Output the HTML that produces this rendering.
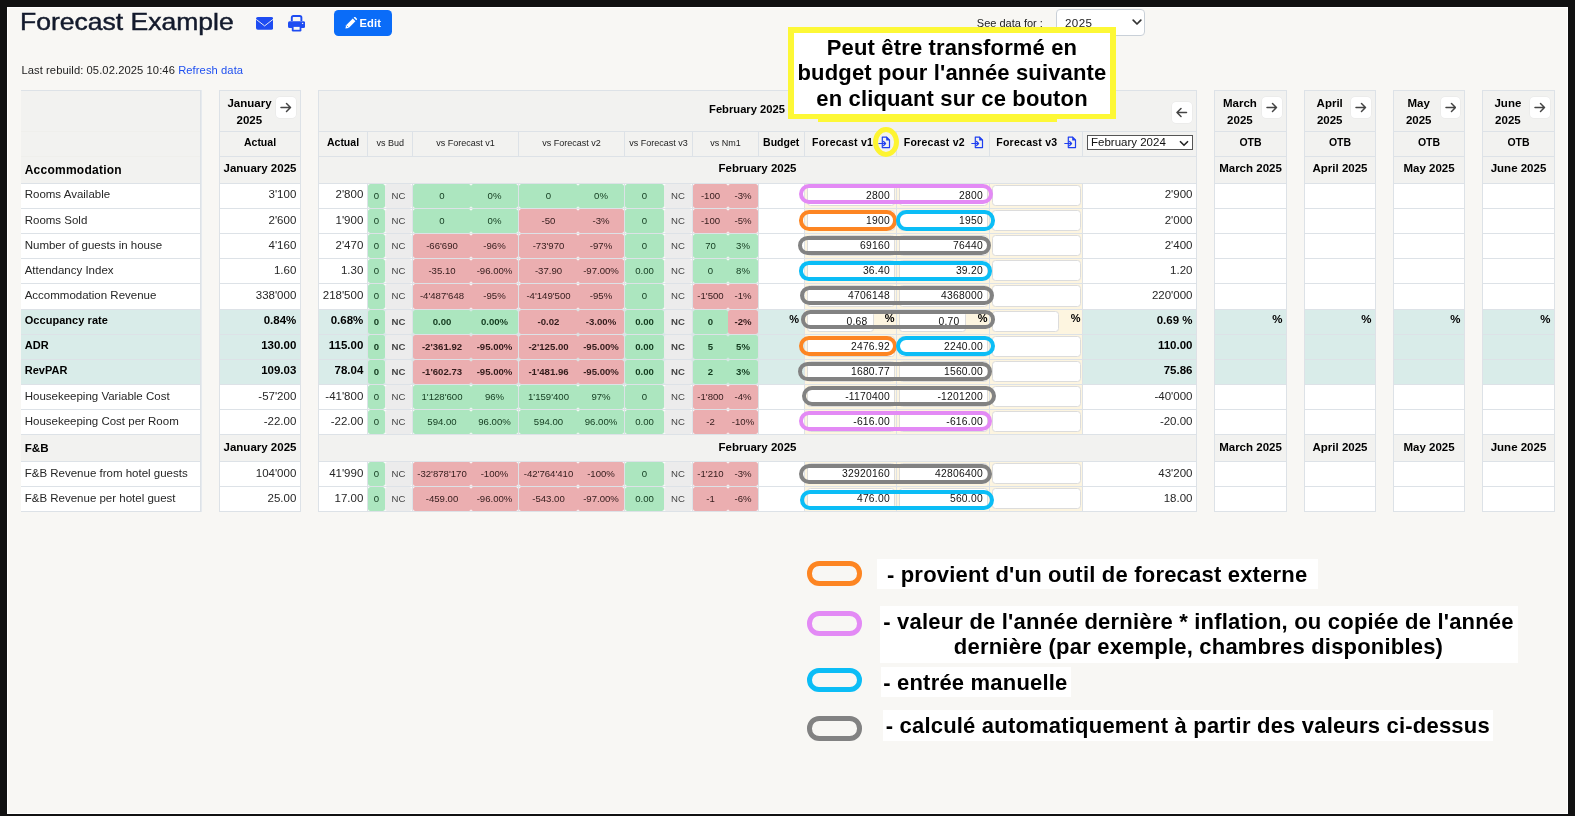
<!DOCTYPE html>
<html><head><meta charset="utf-8"><title>Forecast Example</title>
<style>
html,body{margin:0;padding:0}
body{width:1575px;height:816px;overflow:hidden;background:#111;position:relative;font-family:"Liberation Sans", Arial, sans-serif;}
.page{position:absolute;left:7px;top:7px;width:1561px;height:807px;background:#f8f7f4;box-sizing:border-box;border:1px solid #fff;}
.a{position:absolute}
.layer{position:absolute;left:0;top:0;width:1575px;height:816px;will-change:transform}
.t{position:absolute;white-space:nowrap;color:#262626}
</style></head><body>
<div class="page"></div>
<div class="layer">
<div class="a" style="left:21px;top:90px;width:180px;height:422px;background:#f2f2f0"></div>
<div class="a" style="left:21px;top:183px;width:180px;height:25px;background:#ffffff"></div>
<div class="a" style="left:21px;top:208px;width:180px;height:25px;background:#ffffff"></div>
<div class="a" style="left:21px;top:233px;width:180px;height:25px;background:#ffffff"></div>
<div class="a" style="left:21px;top:258px;width:180px;height:25px;background:#ffffff"></div>
<div class="a" style="left:21px;top:283px;width:180px;height:26px;background:#ffffff"></div>
<div class="a" style="left:21px;top:309px;width:180px;height:25px;background:#d9ece9"></div>
<div class="a" style="left:21px;top:334px;width:180px;height:25px;background:#d9ece9"></div>
<div class="a" style="left:21px;top:359px;width:180px;height:25px;background:#d9ece9"></div>
<div class="a" style="left:21px;top:384px;width:180px;height:25px;background:#ffffff"></div>
<div class="a" style="left:21px;top:409px;width:180px;height:25px;background:#ffffff"></div>
<div class="a" style="left:21px;top:461px;width:180px;height:25px;background:#ffffff"></div>
<div class="a" style="left:21px;top:486px;width:180px;height:25px;background:#ffffff"></div>
<div class="a" style="left:21px;top:90px;width:180px;height:1px;background:#dde2e7"></div>
<div class="a" style="left:21px;top:131px;width:180px;height:1px;background:#efefec"></div>
<div class="a" style="left:21px;top:156px;width:180px;height:1px;background:#efefec"></div>
<div class="a" style="left:21px;top:183px;width:180px;height:1px;background:#dde2e7"></div>
<div class="a" style="left:21px;top:208px;width:180px;height:1px;background:#dde2e7"></div>
<div class="a" style="left:21px;top:233px;width:180px;height:1px;background:#dde2e7"></div>
<div class="a" style="left:21px;top:258px;width:180px;height:1px;background:#dde2e7"></div>
<div class="a" style="left:21px;top:283px;width:180px;height:1px;background:#dde2e7"></div>
<div class="a" style="left:21px;top:309px;width:180px;height:1px;background:#dde2e7"></div>
<div class="a" style="left:21px;top:334px;width:180px;height:1px;background:#dde2e7"></div>
<div class="a" style="left:21px;top:359px;width:180px;height:1px;background:#dde2e7"></div>
<div class="a" style="left:21px;top:384px;width:180px;height:1px;background:#dde2e7"></div>
<div class="a" style="left:21px;top:409px;width:180px;height:1px;background:#dde2e7"></div>
<div class="a" style="left:21px;top:434px;width:180px;height:1px;background:#dde2e7"></div>
<div class="a" style="left:21px;top:461px;width:180px;height:1px;background:#dde2e7"></div>
<div class="a" style="left:21px;top:486px;width:180px;height:1px;background:#dde2e7"></div>
<div class="a" style="left:21px;top:511px;width:180px;height:1px;background:#dde2e7"></div>
<div class="a" style="left:200px;top:90px;width:1px;height:422px;background:#dde2e7"></div>
<div class="a" style="left:201px;top:90px;width:1px;height:422px;background:#e6eaee"></div>
<div class="t" style="top:164.24px;font-size:12px;line-height:12px;font-weight:700;color:#000;letter-spacing:0.25px;left:24.7px;">Accommodation</div>
<div class="t" style="top:442.38px;font-size:11.6px;line-height:11.6px;font-weight:700;color:#000;left:24.7px;">F&amp;B</div>
<div class="t" style="top:189.07px;font-size:11.5px;line-height:11.5px;left:24.7px;">Rooms Available</div>
<div class="t" style="top:215.07px;font-size:11.5px;line-height:11.5px;left:24.7px;">Rooms Sold</div>
<div class="t" style="top:240.07px;font-size:11.5px;line-height:11.5px;left:24.7px;">Number of guests in house</div>
<div class="t" style="top:265.07px;font-size:11.5px;line-height:11.5px;left:24.7px;">Attendancy Index</div>
<div class="t" style="top:290.07px;font-size:11.5px;line-height:11.5px;left:24.7px;">Accommodation Revenue</div>
<div class="t" style="top:315.49px;font-size:11px;line-height:11px;font-weight:700;color:#000;letter-spacing:0.05px;left:24.7px;">Occupancy rate</div>
<div class="t" style="top:340.49px;font-size:11px;line-height:11px;font-weight:700;color:#000;letter-spacing:0.05px;left:24.7px;">ADR</div>
<div class="t" style="top:365.49px;font-size:11px;line-height:11px;font-weight:700;color:#000;letter-spacing:0.05px;left:24.7px;">RevPAR</div>
<div class="t" style="top:391.07px;font-size:11.5px;line-height:11.5px;left:24.7px;">Housekeeping Variable Cost</div>
<div class="t" style="top:416.07px;font-size:11.5px;line-height:11.5px;left:24.7px;">Housekeeping Cost per Room</div>
<div class="t" style="top:468.07px;font-size:11.5px;line-height:11.5px;left:24.7px;">F&amp;B Revenue from hotel guests</div>
<div class="t" style="top:493.07px;font-size:11.5px;line-height:11.5px;left:24.7px;">F&amp;B Revenue per hotel guest</div>
<div class="a" style="left:219px;top:90px;width:82px;height:422px;background:#f2f2f0"></div>
<div class="a" style="left:219px;top:183px;width:82px;height:25px;background:#ffffff"></div>
<div class="a" style="left:219px;top:208px;width:82px;height:25px;background:#ffffff"></div>
<div class="a" style="left:219px;top:233px;width:82px;height:25px;background:#ffffff"></div>
<div class="a" style="left:219px;top:258px;width:82px;height:25px;background:#ffffff"></div>
<div class="a" style="left:219px;top:283px;width:82px;height:26px;background:#ffffff"></div>
<div class="a" style="left:219px;top:309px;width:82px;height:25px;background:#d9ece9"></div>
<div class="a" style="left:219px;top:334px;width:82px;height:25px;background:#d9ece9"></div>
<div class="a" style="left:219px;top:359px;width:82px;height:25px;background:#d9ece9"></div>
<div class="a" style="left:219px;top:384px;width:82px;height:25px;background:#ffffff"></div>
<div class="a" style="left:219px;top:409px;width:82px;height:25px;background:#ffffff"></div>
<div class="a" style="left:219px;top:461px;width:82px;height:25px;background:#ffffff"></div>
<div class="a" style="left:219px;top:486px;width:82px;height:25px;background:#ffffff"></div>
<div class="a" style="left:219px;top:90px;width:82px;height:1px;background:#dde2e7"></div>
<div class="a" style="left:219px;top:131px;width:82px;height:1px;background:#dde2e7"></div>
<div class="a" style="left:219px;top:156px;width:82px;height:1px;background:#dde2e7"></div>
<div class="a" style="left:219px;top:183px;width:82px;height:1px;background:#dde2e7"></div>
<div class="a" style="left:219px;top:208px;width:82px;height:1px;background:#dde2e7"></div>
<div class="a" style="left:219px;top:233px;width:82px;height:1px;background:#dde2e7"></div>
<div class="a" style="left:219px;top:258px;width:82px;height:1px;background:#dde2e7"></div>
<div class="a" style="left:219px;top:283px;width:82px;height:1px;background:#dde2e7"></div>
<div class="a" style="left:219px;top:309px;width:82px;height:1px;background:#dde2e7"></div>
<div class="a" style="left:219px;top:334px;width:82px;height:1px;background:#dde2e7"></div>
<div class="a" style="left:219px;top:359px;width:82px;height:1px;background:#dde2e7"></div>
<div class="a" style="left:219px;top:384px;width:82px;height:1px;background:#dde2e7"></div>
<div class="a" style="left:219px;top:409px;width:82px;height:1px;background:#dde2e7"></div>
<div class="a" style="left:219px;top:434px;width:82px;height:1px;background:#dde2e7"></div>
<div class="a" style="left:219px;top:461px;width:82px;height:1px;background:#dde2e7"></div>
<div class="a" style="left:219px;top:486px;width:82px;height:1px;background:#dde2e7"></div>
<div class="a" style="left:219px;top:511px;width:82px;height:1px;background:#dde2e7"></div>
<div class="a" style="left:219px;top:90px;width:1px;height:422px;background:#dde2e7"></div>
<div class="a" style="left:300px;top:90px;width:1px;height:422px;background:#dde2e7"></div>
<div class="t" style="top:97.77px;font-size:11.5px;line-height:11.5px;font-weight:700;color:#000;left:-350.5px;width:1200px;text-align:center;">January</div>
<div class="t" style="top:115.07px;font-size:11.5px;line-height:11.5px;font-weight:700;color:#000;left:-350.7px;width:1200px;text-align:center;">2025</div>
<div class="a" style="left:275.8px;top:96.8px;width:20.3px;height:21.5px;background:#fff;border-radius:4px;box-shadow:0 0 0 0.5px #e6e6e6"></div>
<svg class="a" style="left:280.2px;top:102.05px" width="11.5" height="11" viewBox="0 0 11.5 11"><path d="M1 5.5 H10.5 M6.5 1.5 L10.5 5.5 L6.5 9.5" fill="none" stroke="#444" stroke-width="1.5" stroke-linecap="round" stroke-linejoin="round"/></svg>
<div class="t" style="top:137.31px;font-size:10.5px;line-height:10.5px;font-weight:700;color:#000;left:-340px;width:1200px;text-align:center;">Actual</div>
<div class="t" style="top:163.47px;font-size:11.5px;line-height:11.5px;font-weight:700;color:#000;left:-340px;width:1200px;text-align:center;">January 2025</div>
<div class="t" style="top:442.27px;font-size:11.5px;line-height:11.5px;font-weight:700;color:#000;left:-340px;width:1200px;text-align:center;">January 2025</div>
<div class="t" style="top:189.07px;font-size:11.5px;line-height:11.5px;right:1278.7px;">3&#x27;100</div>
<div class="t" style="top:215.07px;font-size:11.5px;line-height:11.5px;right:1278.7px;">2&#x27;600</div>
<div class="t" style="top:240.07px;font-size:11.5px;line-height:11.5px;right:1278.7px;">4&#x27;160</div>
<div class="t" style="top:265.07px;font-size:11.5px;line-height:11.5px;right:1278.7px;">1.60</div>
<div class="t" style="top:290.07px;font-size:11.5px;line-height:11.5px;right:1278.7px;">338&#x27;000</div>
<div class="t" style="top:315.07px;font-size:11.5px;line-height:11.5px;font-weight:700;color:#000;right:1278.7px;">0.84%</div>
<div class="t" style="top:340.07px;font-size:11.5px;line-height:11.5px;font-weight:700;color:#000;right:1278.7px;">130.00</div>
<div class="t" style="top:365.07px;font-size:11.5px;line-height:11.5px;font-weight:700;color:#000;right:1278.7px;">109.03</div>
<div class="t" style="top:391.07px;font-size:11.5px;line-height:11.5px;right:1278.7px;">-57&#x27;200</div>
<div class="t" style="top:416.07px;font-size:11.5px;line-height:11.5px;right:1278.7px;">-22.00</div>
<div class="t" style="top:468.07px;font-size:11.5px;line-height:11.5px;right:1278.7px;">104&#x27;000</div>
<div class="t" style="top:493.07px;font-size:11.5px;line-height:11.5px;right:1278.7px;">25.00</div>
<div class="a" style="left:318px;top:90px;width:879px;height:422px;background:#f2f2f0"></div>
<div class="a" style="left:318px;top:183px;width:879px;height:25px;background:#ffffff"></div>
<div class="a" style="left:318px;top:208px;width:879px;height:25px;background:#ffffff"></div>
<div class="a" style="left:318px;top:233px;width:879px;height:25px;background:#ffffff"></div>
<div class="a" style="left:318px;top:258px;width:879px;height:25px;background:#ffffff"></div>
<div class="a" style="left:318px;top:283px;width:879px;height:26px;background:#ffffff"></div>
<div class="a" style="left:318px;top:309px;width:879px;height:25px;background:#d9ece9"></div>
<div class="a" style="left:318px;top:334px;width:879px;height:25px;background:#d9ece9"></div>
<div class="a" style="left:318px;top:359px;width:879px;height:25px;background:#d9ece9"></div>
<div class="a" style="left:318px;top:384px;width:879px;height:25px;background:#ffffff"></div>
<div class="a" style="left:318px;top:409px;width:879px;height:25px;background:#ffffff"></div>
<div class="a" style="left:318px;top:461px;width:879px;height:25px;background:#ffffff"></div>
<div class="a" style="left:318px;top:486px;width:879px;height:25px;background:#ffffff"></div>
<div class="a" style="left:318px;top:90px;width:879px;height:1px;background:#dde2e7"></div>
<div class="a" style="left:318px;top:131px;width:879px;height:1px;background:#dde2e7"></div>
<div class="a" style="left:318px;top:156px;width:879px;height:1px;background:#dde2e7"></div>
<div class="a" style="left:318px;top:183px;width:879px;height:1px;background:#dde2e7"></div>
<div class="a" style="left:318px;top:208px;width:879px;height:1px;background:#dde2e7"></div>
<div class="a" style="left:318px;top:233px;width:879px;height:1px;background:#dde2e7"></div>
<div class="a" style="left:318px;top:258px;width:879px;height:1px;background:#dde2e7"></div>
<div class="a" style="left:318px;top:283px;width:879px;height:1px;background:#dde2e7"></div>
<div class="a" style="left:318px;top:309px;width:879px;height:1px;background:#dde2e7"></div>
<div class="a" style="left:318px;top:334px;width:879px;height:1px;background:#dde2e7"></div>
<div class="a" style="left:318px;top:359px;width:879px;height:1px;background:#dde2e7"></div>
<div class="a" style="left:318px;top:384px;width:879px;height:1px;background:#dde2e7"></div>
<div class="a" style="left:318px;top:409px;width:879px;height:1px;background:#dde2e7"></div>
<div class="a" style="left:318px;top:434px;width:879px;height:1px;background:#dde2e7"></div>
<div class="a" style="left:318px;top:461px;width:879px;height:1px;background:#dde2e7"></div>
<div class="a" style="left:318px;top:486px;width:879px;height:1px;background:#dde2e7"></div>
<div class="a" style="left:318px;top:511px;width:879px;height:1px;background:#dde2e7"></div>
<div class="a" style="left:318px;top:90px;width:1px;height:422px;background:#dde2e7"></div>
<div class="a" style="left:1196px;top:90px;width:1px;height:422px;background:#dde2e7"></div>
<div class="a" style="left:367px;top:131px;width:1px;height:26px;background:#dde2e7"></div>
<div class="a" style="left:367px;top:183px;width:1px;height:251px;background:#dde2e7"></div>
<div class="a" style="left:367px;top:461px;width:1px;height:50px;background:#dde2e7"></div>
<div class="a" style="left:412px;top:131px;width:1px;height:26px;background:#dde2e7"></div>
<div class="a" style="left:412px;top:183px;width:1px;height:251px;background:#dde2e7"></div>
<div class="a" style="left:412px;top:461px;width:1px;height:50px;background:#dde2e7"></div>
<div class="a" style="left:518px;top:131px;width:1px;height:26px;background:#dde2e7"></div>
<div class="a" style="left:518px;top:183px;width:1px;height:251px;background:#dde2e7"></div>
<div class="a" style="left:518px;top:461px;width:1px;height:50px;background:#dde2e7"></div>
<div class="a" style="left:624px;top:131px;width:1px;height:26px;background:#dde2e7"></div>
<div class="a" style="left:624px;top:183px;width:1px;height:251px;background:#dde2e7"></div>
<div class="a" style="left:624px;top:461px;width:1px;height:50px;background:#dde2e7"></div>
<div class="a" style="left:692px;top:131px;width:1px;height:26px;background:#dde2e7"></div>
<div class="a" style="left:692px;top:183px;width:1px;height:251px;background:#dde2e7"></div>
<div class="a" style="left:692px;top:461px;width:1px;height:50px;background:#dde2e7"></div>
<div class="a" style="left:758px;top:131px;width:1px;height:26px;background:#dde2e7"></div>
<div class="a" style="left:758px;top:183px;width:1px;height:251px;background:#dde2e7"></div>
<div class="a" style="left:758px;top:461px;width:1px;height:50px;background:#dde2e7"></div>
<div class="a" style="left:804px;top:131px;width:1px;height:26px;background:#dde2e7"></div>
<div class="a" style="left:804px;top:183px;width:1px;height:251px;background:#dde2e7"></div>
<div class="a" style="left:804px;top:461px;width:1px;height:50px;background:#dde2e7"></div>
<div class="a" style="left:896px;top:131px;width:1px;height:26px;background:#dde2e7"></div>
<div class="a" style="left:896px;top:183px;width:1px;height:251px;background:#dde2e7"></div>
<div class="a" style="left:896px;top:461px;width:1px;height:50px;background:#dde2e7"></div>
<div class="a" style="left:989px;top:131px;width:1px;height:26px;background:#dde2e7"></div>
<div class="a" style="left:989px;top:183px;width:1px;height:251px;background:#dde2e7"></div>
<div class="a" style="left:989px;top:461px;width:1px;height:50px;background:#dde2e7"></div>
<div class="a" style="left:1082px;top:131px;width:1px;height:26px;background:#dde2e7"></div>
<div class="a" style="left:1082px;top:183px;width:1px;height:251px;background:#dde2e7"></div>
<div class="a" style="left:1082px;top:461px;width:1px;height:50px;background:#dde2e7"></div>
<div class="t" style="top:103.52px;font-size:11.2px;line-height:11.2px;font-weight:700;color:#000;left:147px;width:1200px;text-align:center;">February 2025</div>
<div class="a" style="left:1171.8px;top:102px;width:20.2px;height:21px;background:#fff;border-radius:4px;box-shadow:0 0 0 0.5px #e6e6e6"></div>
<svg class="a" style="left:1176.1499999999999px;top:107.0px" width="11.5" height="11" viewBox="0 0 11.5 11"><path d="M10.5 5.5 H1 M5 1.5 L1 5.5 L5 9.5" fill="none" stroke="#444" stroke-width="1.5" stroke-linecap="round" stroke-linejoin="round"/></svg>
<div class="t" style="top:137.31px;font-size:10.5px;line-height:10.5px;font-weight:700;color:#000;left:-257px;width:1200px;text-align:center;">Actual</div>
<div class="t" style="top:139.18px;font-size:9px;line-height:9px;color:#222;left:-209.8px;width:1200px;text-align:center;">vs Bud</div>
<div class="t" style="top:139.18px;font-size:9px;line-height:9px;color:#222;left:-134.39999999999998px;width:1200px;text-align:center;">vs Forecast v1</div>
<div class="t" style="top:139.18px;font-size:9px;line-height:9px;color:#222;left:-28.5px;width:1200px;text-align:center;">vs Forecast v2</div>
<div class="t" style="top:139.18px;font-size:9px;line-height:9px;color:#222;left:58.5px;width:1200px;text-align:center;">vs Forecast v3</div>
<div class="t" style="top:139.18px;font-size:9px;line-height:9px;color:#222;left:125.5px;width:1200px;text-align:center;">vs Nm1</div>
<div class="t" style="top:137.31px;font-size:10.5px;line-height:10.5px;font-weight:700;color:#000;left:181.20000000000005px;width:1200px;text-align:center;">Budget</div>
<div class="t" style="top:137.31px;font-size:10.5px;line-height:10.5px;font-weight:700;color:#000;letter-spacing:0.25px;left:812px;">Forecast v1</div>
<div class="t" style="top:137.31px;font-size:10.5px;line-height:10.5px;font-weight:700;color:#000;letter-spacing:0.25px;left:903.8px;">Forecast v2</div>
<div class="t" style="top:137.31px;font-size:10.5px;line-height:10.5px;font-weight:700;color:#000;letter-spacing:0.25px;left:996.3px;">Forecast v3</div>
<svg class="a" style="left:877.6px;top:135.6px" width="13" height="13" viewBox="0 0 13 13"><path d="M4.3 1.1 H8.6 L11.5 4 V11.6 H4.3 Z" fill="none" stroke="#1f3ff0" stroke-width="1.2" stroke-linejoin="round"/><path d="M8.2 0.6 V4.4 H12 Z" fill="#1f3ff0"/><path d="M0.8 7.5 H7.6 M5.6 5.5 L7.6 7.5 L5.6 9.5" fill="none" stroke="#1f3ff0" stroke-width="1.2" stroke-linecap="round" stroke-linejoin="round"/></svg>
<svg class="a" style="left:971.2px;top:135.6px" width="13" height="13" viewBox="0 0 13 13"><path d="M4.3 1.1 H8.6 L11.5 4 V11.6 H4.3 Z" fill="none" stroke="#1f3ff0" stroke-width="1.2" stroke-linejoin="round"/><path d="M8.2 0.6 V4.4 H12 Z" fill="#1f3ff0"/><path d="M0.8 7.5 H7.6 M5.6 5.5 L7.6 7.5 L5.6 9.5" fill="none" stroke="#1f3ff0" stroke-width="1.2" stroke-linecap="round" stroke-linejoin="round"/></svg>
<svg class="a" style="left:1064.4px;top:135.6px" width="13" height="13" viewBox="0 0 13 13"><path d="M4.3 1.1 H8.6 L11.5 4 V11.6 H4.3 Z" fill="none" stroke="#1f3ff0" stroke-width="1.2" stroke-linejoin="round"/><path d="M8.2 0.6 V4.4 H12 Z" fill="#1f3ff0"/><path d="M0.8 7.5 H7.6 M5.6 5.5 L7.6 7.5 L5.6 9.5" fill="none" stroke="#1f3ff0" stroke-width="1.2" stroke-linecap="round" stroke-linejoin="round"/></svg>
<div class="a" style="left:1087px;top:135px;width:106px;height:15px;box-sizing:border-box;border:1px solid #555;background:#fff"></div>
<div class="t" style="top:136.87px;font-size:11.5px;line-height:11.5px;color:#111;left:1091px;">February 2024</div>
<svg class="a" style="left:1178.5px;top:139.5px" width="10" height="7" viewBox="0 0 10 7"><path d="M1 1.2 L5 5.2 L9 1.2" fill="none" stroke="#222" stroke-width="1.6"/></svg>
<div class="t" style="top:163.27px;font-size:11.5px;line-height:11.5px;font-weight:700;color:#000;left:157.5px;width:1200px;text-align:center;">February 2025</div>
<div class="t" style="top:442.27px;font-size:11.5px;line-height:11.5px;font-weight:700;color:#000;left:157.5px;width:1200px;text-align:center;">February 2025</div>
<div class="t" style="top:189.07px;font-size:11.5px;line-height:11.5px;right:1211.7px;">2&#x27;800</div>
<div class="a" style="left:368px;top:184px;width:17px;height:24px;background:#ace6bf;border-radius:2.5px"></div>
<div class="t" style="top:191.47px;font-size:9.6px;line-height:9.6px;color:#123a1e;left:-223.5px;width:1200px;text-align:center;">0</div>
<div class="a" style="left:385px;top:184px;width:27px;height:24px;background:#ececec;border-radius:2.5px"></div>
<div class="t" style="top:191.47px;font-size:9.6px;line-height:9.6px;color:#444;left:-201.5px;width:1200px;text-align:center;">NC</div>
<div class="a" style="left:413px;top:184px;width:58px;height:24px;background:#ace6bf;border-radius:2.5px"></div>
<div class="t" style="top:191.47px;font-size:9.6px;line-height:9.6px;color:#123a1e;left:-158.0px;width:1200px;text-align:center;">0</div>
<div class="a" style="left:471px;top:184px;width:47px;height:24px;background:#ace6bf;border-radius:2.5px"></div>
<div class="t" style="top:191.47px;font-size:9.6px;line-height:9.6px;color:#123a1e;left:-105.5px;width:1200px;text-align:center;">0%</div>
<div class="a" style="left:519px;top:184px;width:59px;height:24px;background:#ace6bf;border-radius:2.5px"></div>
<div class="t" style="top:191.47px;font-size:9.6px;line-height:9.6px;color:#123a1e;left:-51.5px;width:1200px;text-align:center;">0</div>
<div class="a" style="left:578px;top:184px;width:46px;height:24px;background:#ace6bf;border-radius:2.5px"></div>
<div class="t" style="top:191.47px;font-size:9.6px;line-height:9.6px;color:#123a1e;left:1.0px;width:1200px;text-align:center;">0%</div>
<div class="a" style="left:625px;top:184px;width:39px;height:24px;background:#ace6bf;border-radius:2.5px"></div>
<div class="t" style="top:191.47px;font-size:9.6px;line-height:9.6px;color:#123a1e;left:44.5px;width:1200px;text-align:center;">0</div>
<div class="a" style="left:664px;top:184px;width:28px;height:24px;background:#ececec;border-radius:2.5px"></div>
<div class="t" style="top:191.47px;font-size:9.6px;line-height:9.6px;color:#444;left:78.0px;width:1200px;text-align:center;">NC</div>
<div class="a" style="left:693px;top:184px;width:35px;height:24px;background:#ebaeb0;border-radius:2.5px"></div>
<div class="t" style="top:191.47px;font-size:9.6px;line-height:9.6px;color:#331b1b;left:110.5px;width:1200px;text-align:center;">-100</div>
<div class="a" style="left:728px;top:184px;width:30px;height:24px;background:#ebaeb0;border-radius:2.5px"></div>
<div class="t" style="top:191.47px;font-size:9.6px;line-height:9.6px;color:#331b1b;left:143.0px;width:1200px;text-align:center;">-3%</div>
<div class="a" style="left:805px;top:184px;width:91px;height:24px;background:#fdf5e0"></div>
<div class="a" style="left:806.5px;top:185px;width:88px;height:20.5px;box-sizing:border-box;border:1px solid #dcdcdc;border-radius:3.5px;background:#fff"></div>
<div class="t" style="top:191.08px;font-size:10.3px;line-height:10.3px;color:#111;letter-spacing:0.25px;right:685.1px;">2800</div>
<div class="a" style="left:897px;top:184px;width:92px;height:24px;background:#fdf5e0"></div>
<div class="a" style="left:898.5px;top:185px;width:89px;height:20.5px;box-sizing:border-box;border:1px solid #dcdcdc;border-radius:3.5px;background:#fff"></div>
<div class="t" style="top:191.08px;font-size:10.3px;line-height:10.3px;color:#111;letter-spacing:0.25px;right:592.1px;">2800</div>
<div class="a" style="left:990px;top:184px;width:92px;height:24px;background:#fdf5e0"></div>
<div class="a" style="left:991.5px;top:185px;width:89px;height:20.5px;box-sizing:border-box;border:1px solid #dcdcdc;border-radius:3.5px;background:#fff"></div>
<div class="t" style="top:189.07px;font-size:11.5px;line-height:11.5px;right:382.5px;">2&#x27;900</div>
<div class="t" style="top:215.07px;font-size:11.5px;line-height:11.5px;right:1211.7px;">1&#x27;900</div>
<div class="a" style="left:368px;top:209px;width:17px;height:24px;background:#ace6bf;border-radius:2.5px"></div>
<div class="t" style="top:216.47px;font-size:9.6px;line-height:9.6px;color:#123a1e;left:-223.5px;width:1200px;text-align:center;">0</div>
<div class="a" style="left:385px;top:209px;width:27px;height:24px;background:#ececec;border-radius:2.5px"></div>
<div class="t" style="top:216.47px;font-size:9.6px;line-height:9.6px;color:#444;left:-201.5px;width:1200px;text-align:center;">NC</div>
<div class="a" style="left:413px;top:209px;width:58px;height:24px;background:#ace6bf;border-radius:2.5px"></div>
<div class="t" style="top:216.47px;font-size:9.6px;line-height:9.6px;color:#123a1e;left:-158.0px;width:1200px;text-align:center;">0</div>
<div class="a" style="left:471px;top:209px;width:47px;height:24px;background:#ace6bf;border-radius:2.5px"></div>
<div class="t" style="top:216.47px;font-size:9.6px;line-height:9.6px;color:#123a1e;left:-105.5px;width:1200px;text-align:center;">0%</div>
<div class="a" style="left:519px;top:209px;width:59px;height:24px;background:#ebaeb0;border-radius:2.5px"></div>
<div class="t" style="top:216.47px;font-size:9.6px;line-height:9.6px;color:#331b1b;left:-51.5px;width:1200px;text-align:center;">-50</div>
<div class="a" style="left:578px;top:209px;width:46px;height:24px;background:#ebaeb0;border-radius:2.5px"></div>
<div class="t" style="top:216.47px;font-size:9.6px;line-height:9.6px;color:#331b1b;left:1.0px;width:1200px;text-align:center;">-3%</div>
<div class="a" style="left:625px;top:209px;width:39px;height:24px;background:#ace6bf;border-radius:2.5px"></div>
<div class="t" style="top:216.47px;font-size:9.6px;line-height:9.6px;color:#123a1e;left:44.5px;width:1200px;text-align:center;">0</div>
<div class="a" style="left:664px;top:209px;width:28px;height:24px;background:#ececec;border-radius:2.5px"></div>
<div class="t" style="top:216.47px;font-size:9.6px;line-height:9.6px;color:#444;left:78.0px;width:1200px;text-align:center;">NC</div>
<div class="a" style="left:693px;top:209px;width:35px;height:24px;background:#ebaeb0;border-radius:2.5px"></div>
<div class="t" style="top:216.47px;font-size:9.6px;line-height:9.6px;color:#331b1b;left:110.5px;width:1200px;text-align:center;">-100</div>
<div class="a" style="left:728px;top:209px;width:30px;height:24px;background:#ebaeb0;border-radius:2.5px"></div>
<div class="t" style="top:216.47px;font-size:9.6px;line-height:9.6px;color:#331b1b;left:143.0px;width:1200px;text-align:center;">-5%</div>
<div class="a" style="left:805px;top:209px;width:91px;height:24px;background:#fdf5e0"></div>
<div class="a" style="left:806.5px;top:210px;width:88px;height:20.5px;box-sizing:border-box;border:1px solid #dcdcdc;border-radius:3.5px;background:#fff"></div>
<div class="t" style="top:216.08px;font-size:10.3px;line-height:10.3px;color:#111;letter-spacing:0.25px;right:685.1px;">1900</div>
<div class="a" style="left:897px;top:209px;width:92px;height:24px;background:#fdf5e0"></div>
<div class="a" style="left:898.5px;top:210px;width:89px;height:20.5px;box-sizing:border-box;border:1px solid #dcdcdc;border-radius:3.5px;background:#fff"></div>
<div class="t" style="top:216.08px;font-size:10.3px;line-height:10.3px;color:#111;letter-spacing:0.25px;right:592.1px;">1950</div>
<div class="a" style="left:990px;top:209px;width:92px;height:24px;background:#fdf5e0"></div>
<div class="a" style="left:991.5px;top:210px;width:89px;height:20.5px;box-sizing:border-box;border:1px solid #dcdcdc;border-radius:3.5px;background:#fff"></div>
<div class="t" style="top:215.07px;font-size:11.5px;line-height:11.5px;right:382.5px;">2&#x27;000</div>
<div class="t" style="top:240.07px;font-size:11.5px;line-height:11.5px;right:1211.7px;">2&#x27;470</div>
<div class="a" style="left:368px;top:234px;width:17px;height:24px;background:#ace6bf;border-radius:2.5px"></div>
<div class="t" style="top:241.47px;font-size:9.6px;line-height:9.6px;color:#123a1e;left:-223.5px;width:1200px;text-align:center;">0</div>
<div class="a" style="left:385px;top:234px;width:27px;height:24px;background:#ececec;border-radius:2.5px"></div>
<div class="t" style="top:241.47px;font-size:9.6px;line-height:9.6px;color:#444;left:-201.5px;width:1200px;text-align:center;">NC</div>
<div class="a" style="left:413px;top:234px;width:58px;height:24px;background:#ebaeb0;border-radius:2.5px"></div>
<div class="t" style="top:241.47px;font-size:9.6px;line-height:9.6px;color:#331b1b;left:-158.0px;width:1200px;text-align:center;">-66&#x27;690</div>
<div class="a" style="left:471px;top:234px;width:47px;height:24px;background:#ebaeb0;border-radius:2.5px"></div>
<div class="t" style="top:241.47px;font-size:9.6px;line-height:9.6px;color:#331b1b;left:-105.5px;width:1200px;text-align:center;">-96%</div>
<div class="a" style="left:519px;top:234px;width:59px;height:24px;background:#ebaeb0;border-radius:2.5px"></div>
<div class="t" style="top:241.47px;font-size:9.6px;line-height:9.6px;color:#331b1b;left:-51.5px;width:1200px;text-align:center;">-73&#x27;970</div>
<div class="a" style="left:578px;top:234px;width:46px;height:24px;background:#ebaeb0;border-radius:2.5px"></div>
<div class="t" style="top:241.47px;font-size:9.6px;line-height:9.6px;color:#331b1b;left:1.0px;width:1200px;text-align:center;">-97%</div>
<div class="a" style="left:625px;top:234px;width:39px;height:24px;background:#ace6bf;border-radius:2.5px"></div>
<div class="t" style="top:241.47px;font-size:9.6px;line-height:9.6px;color:#123a1e;left:44.5px;width:1200px;text-align:center;">0</div>
<div class="a" style="left:664px;top:234px;width:28px;height:24px;background:#ececec;border-radius:2.5px"></div>
<div class="t" style="top:241.47px;font-size:9.6px;line-height:9.6px;color:#444;left:78.0px;width:1200px;text-align:center;">NC</div>
<div class="a" style="left:693px;top:234px;width:35px;height:24px;background:#ace6bf;border-radius:2.5px"></div>
<div class="t" style="top:241.47px;font-size:9.6px;line-height:9.6px;color:#123a1e;left:110.5px;width:1200px;text-align:center;">70</div>
<div class="a" style="left:728px;top:234px;width:30px;height:24px;background:#ace6bf;border-radius:2.5px"></div>
<div class="t" style="top:241.47px;font-size:9.6px;line-height:9.6px;color:#123a1e;left:143.0px;width:1200px;text-align:center;">3%</div>
<div class="a" style="left:805px;top:234px;width:91px;height:24px;background:#fdf5e0"></div>
<div class="a" style="left:806.5px;top:235px;width:88px;height:20.5px;box-sizing:border-box;border:1px solid #dcdcdc;border-radius:3.5px;background:#fff"></div>
<div class="t" style="top:241.08px;font-size:10.3px;line-height:10.3px;color:#111;letter-spacing:0.25px;right:685.1px;">69160</div>
<div class="a" style="left:897px;top:234px;width:92px;height:24px;background:#fdf5e0"></div>
<div class="a" style="left:898.5px;top:235px;width:89px;height:20.5px;box-sizing:border-box;border:1px solid #dcdcdc;border-radius:3.5px;background:#fff"></div>
<div class="t" style="top:241.08px;font-size:10.3px;line-height:10.3px;color:#111;letter-spacing:0.25px;right:592.1px;">76440</div>
<div class="a" style="left:990px;top:234px;width:92px;height:24px;background:#fdf5e0"></div>
<div class="a" style="left:991.5px;top:235px;width:89px;height:20.5px;box-sizing:border-box;border:1px solid #dcdcdc;border-radius:3.5px;background:#fff"></div>
<div class="t" style="top:240.07px;font-size:11.5px;line-height:11.5px;right:382.5px;">2&#x27;400</div>
<div class="t" style="top:265.07px;font-size:11.5px;line-height:11.5px;right:1211.7px;">1.30</div>
<div class="a" style="left:368px;top:259px;width:17px;height:24px;background:#ace6bf;border-radius:2.5px"></div>
<div class="t" style="top:266.47px;font-size:9.6px;line-height:9.6px;color:#123a1e;left:-223.5px;width:1200px;text-align:center;">0</div>
<div class="a" style="left:385px;top:259px;width:27px;height:24px;background:#ececec;border-radius:2.5px"></div>
<div class="t" style="top:266.47px;font-size:9.6px;line-height:9.6px;color:#444;left:-201.5px;width:1200px;text-align:center;">NC</div>
<div class="a" style="left:413px;top:259px;width:58px;height:24px;background:#ebaeb0;border-radius:2.5px"></div>
<div class="t" style="top:266.47px;font-size:9.6px;line-height:9.6px;color:#331b1b;left:-158.0px;width:1200px;text-align:center;">-35.10</div>
<div class="a" style="left:471px;top:259px;width:47px;height:24px;background:#ebaeb0;border-radius:2.5px"></div>
<div class="t" style="top:266.47px;font-size:9.6px;line-height:9.6px;color:#331b1b;left:-105.5px;width:1200px;text-align:center;">-96.00%</div>
<div class="a" style="left:519px;top:259px;width:59px;height:24px;background:#ebaeb0;border-radius:2.5px"></div>
<div class="t" style="top:266.47px;font-size:9.6px;line-height:9.6px;color:#331b1b;left:-51.5px;width:1200px;text-align:center;">-37.90</div>
<div class="a" style="left:578px;top:259px;width:46px;height:24px;background:#ebaeb0;border-radius:2.5px"></div>
<div class="t" style="top:266.47px;font-size:9.6px;line-height:9.6px;color:#331b1b;left:1.0px;width:1200px;text-align:center;">-97.00%</div>
<div class="a" style="left:625px;top:259px;width:39px;height:24px;background:#ace6bf;border-radius:2.5px"></div>
<div class="t" style="top:266.47px;font-size:9.6px;line-height:9.6px;color:#123a1e;left:44.5px;width:1200px;text-align:center;">0.00</div>
<div class="a" style="left:664px;top:259px;width:28px;height:24px;background:#ececec;border-radius:2.5px"></div>
<div class="t" style="top:266.47px;font-size:9.6px;line-height:9.6px;color:#444;left:78.0px;width:1200px;text-align:center;">NC</div>
<div class="a" style="left:693px;top:259px;width:35px;height:24px;background:#ace6bf;border-radius:2.5px"></div>
<div class="t" style="top:266.47px;font-size:9.6px;line-height:9.6px;color:#123a1e;left:110.5px;width:1200px;text-align:center;">0</div>
<div class="a" style="left:728px;top:259px;width:30px;height:24px;background:#ace6bf;border-radius:2.5px"></div>
<div class="t" style="top:266.47px;font-size:9.6px;line-height:9.6px;color:#123a1e;left:143.0px;width:1200px;text-align:center;">8%</div>
<div class="a" style="left:805px;top:259px;width:91px;height:24px;background:#fdf5e0"></div>
<div class="a" style="left:806.5px;top:260px;width:88px;height:20.5px;box-sizing:border-box;border:1px solid #dcdcdc;border-radius:3.5px;background:#fff"></div>
<div class="t" style="top:266.08px;font-size:10.3px;line-height:10.3px;color:#111;letter-spacing:0.25px;right:685.1px;">36.40</div>
<div class="a" style="left:897px;top:259px;width:92px;height:24px;background:#fdf5e0"></div>
<div class="a" style="left:898.5px;top:260px;width:89px;height:20.5px;box-sizing:border-box;border:1px solid #dcdcdc;border-radius:3.5px;background:#fff"></div>
<div class="t" style="top:266.08px;font-size:10.3px;line-height:10.3px;color:#111;letter-spacing:0.25px;right:592.1px;">39.20</div>
<div class="a" style="left:990px;top:259px;width:92px;height:24px;background:#fdf5e0"></div>
<div class="a" style="left:991.5px;top:260px;width:89px;height:20.5px;box-sizing:border-box;border:1px solid #dcdcdc;border-radius:3.5px;background:#fff"></div>
<div class="t" style="top:265.07px;font-size:11.5px;line-height:11.5px;right:382.5px;">1.20</div>
<div class="t" style="top:290.07px;font-size:11.5px;line-height:11.5px;right:1211.7px;">218&#x27;500</div>
<div class="a" style="left:368px;top:284px;width:17px;height:25px;background:#ace6bf;border-radius:2.5px"></div>
<div class="t" style="top:291.47px;font-size:9.6px;line-height:9.6px;color:#123a1e;left:-223.5px;width:1200px;text-align:center;">0</div>
<div class="a" style="left:385px;top:284px;width:27px;height:25px;background:#ececec;border-radius:2.5px"></div>
<div class="t" style="top:291.47px;font-size:9.6px;line-height:9.6px;color:#444;left:-201.5px;width:1200px;text-align:center;">NC</div>
<div class="a" style="left:413px;top:284px;width:58px;height:25px;background:#ebaeb0;border-radius:2.5px"></div>
<div class="t" style="top:291.47px;font-size:9.6px;line-height:9.6px;color:#331b1b;left:-158.0px;width:1200px;text-align:center;">-4&#x27;487&#x27;648</div>
<div class="a" style="left:471px;top:284px;width:47px;height:25px;background:#ebaeb0;border-radius:2.5px"></div>
<div class="t" style="top:291.47px;font-size:9.6px;line-height:9.6px;color:#331b1b;left:-105.5px;width:1200px;text-align:center;">-95%</div>
<div class="a" style="left:519px;top:284px;width:59px;height:25px;background:#ebaeb0;border-radius:2.5px"></div>
<div class="t" style="top:291.47px;font-size:9.6px;line-height:9.6px;color:#331b1b;left:-51.5px;width:1200px;text-align:center;">-4&#x27;149&#x27;500</div>
<div class="a" style="left:578px;top:284px;width:46px;height:25px;background:#ebaeb0;border-radius:2.5px"></div>
<div class="t" style="top:291.47px;font-size:9.6px;line-height:9.6px;color:#331b1b;left:1.0px;width:1200px;text-align:center;">-95%</div>
<div class="a" style="left:625px;top:284px;width:39px;height:25px;background:#ace6bf;border-radius:2.5px"></div>
<div class="t" style="top:291.47px;font-size:9.6px;line-height:9.6px;color:#123a1e;left:44.5px;width:1200px;text-align:center;">0</div>
<div class="a" style="left:664px;top:284px;width:28px;height:25px;background:#ececec;border-radius:2.5px"></div>
<div class="t" style="top:291.47px;font-size:9.6px;line-height:9.6px;color:#444;left:78.0px;width:1200px;text-align:center;">NC</div>
<div class="a" style="left:693px;top:284px;width:35px;height:25px;background:#ebaeb0;border-radius:2.5px"></div>
<div class="t" style="top:291.47px;font-size:9.6px;line-height:9.6px;color:#331b1b;left:110.5px;width:1200px;text-align:center;">-1&#x27;500</div>
<div class="a" style="left:728px;top:284px;width:30px;height:25px;background:#ebaeb0;border-radius:2.5px"></div>
<div class="t" style="top:291.47px;font-size:9.6px;line-height:9.6px;color:#331b1b;left:143.0px;width:1200px;text-align:center;">-1%</div>
<div class="a" style="left:805px;top:284px;width:91px;height:25px;background:#fdf5e0"></div>
<div class="a" style="left:806.5px;top:285px;width:88px;height:21.5px;box-sizing:border-box;border:1px solid #dcdcdc;border-radius:3.5px;background:#fff"></div>
<div class="t" style="top:291.08px;font-size:10.3px;line-height:10.3px;color:#111;letter-spacing:0.25px;right:685.1px;">4706148</div>
<div class="a" style="left:897px;top:284px;width:92px;height:25px;background:#fdf5e0"></div>
<div class="a" style="left:898.5px;top:285px;width:89px;height:21.5px;box-sizing:border-box;border:1px solid #dcdcdc;border-radius:3.5px;background:#fff"></div>
<div class="t" style="top:291.08px;font-size:10.3px;line-height:10.3px;color:#111;letter-spacing:0.25px;right:592.1px;">4368000</div>
<div class="a" style="left:990px;top:284px;width:92px;height:25px;background:#fdf5e0"></div>
<div class="a" style="left:991.5px;top:285px;width:89px;height:21.5px;box-sizing:border-box;border:1px solid #dcdcdc;border-radius:3.5px;background:#fff"></div>
<div class="t" style="top:290.07px;font-size:11.5px;line-height:11.5px;right:382.5px;">220&#x27;000</div>
<div class="t" style="top:315.07px;font-size:11.5px;line-height:11.5px;font-weight:700;color:#000;right:1211.7px;">0.68%</div>
<div class="a" style="left:368px;top:310px;width:17px;height:24px;background:#ace6bf;border-radius:2.5px"></div>
<div class="t" style="top:317.47px;font-size:9.6px;line-height:9.6px;font-weight:700;color:#123a1e;left:-223.5px;width:1200px;text-align:center;">0</div>
<div class="a" style="left:385px;top:310px;width:27px;height:24px;background:#ececec;border-radius:2.5px"></div>
<div class="t" style="top:317.47px;font-size:9.6px;line-height:9.6px;font-weight:700;color:#444;left:-201.5px;width:1200px;text-align:center;">NC</div>
<div class="a" style="left:413px;top:310px;width:58px;height:24px;background:#ace6bf;border-radius:2.5px"></div>
<div class="t" style="top:317.47px;font-size:9.6px;line-height:9.6px;font-weight:700;color:#123a1e;left:-158.0px;width:1200px;text-align:center;">0.00</div>
<div class="a" style="left:471px;top:310px;width:47px;height:24px;background:#ace6bf;border-radius:2.5px"></div>
<div class="t" style="top:317.47px;font-size:9.6px;line-height:9.6px;font-weight:700;color:#123a1e;left:-105.5px;width:1200px;text-align:center;">0.00%</div>
<div class="a" style="left:519px;top:310px;width:59px;height:24px;background:#ebaeb0;border-radius:2.5px"></div>
<div class="t" style="top:317.47px;font-size:9.6px;line-height:9.6px;font-weight:700;color:#331b1b;left:-51.5px;width:1200px;text-align:center;">-0.02</div>
<div class="a" style="left:578px;top:310px;width:46px;height:24px;background:#ebaeb0;border-radius:2.5px"></div>
<div class="t" style="top:317.47px;font-size:9.6px;line-height:9.6px;font-weight:700;color:#331b1b;left:1.0px;width:1200px;text-align:center;">-3.00%</div>
<div class="a" style="left:625px;top:310px;width:39px;height:24px;background:#ace6bf;border-radius:2.5px"></div>
<div class="t" style="top:317.47px;font-size:9.6px;line-height:9.6px;font-weight:700;color:#123a1e;left:44.5px;width:1200px;text-align:center;">0.00</div>
<div class="a" style="left:664px;top:310px;width:28px;height:24px;background:#ececec;border-radius:2.5px"></div>
<div class="t" style="top:317.47px;font-size:9.6px;line-height:9.6px;font-weight:700;color:#444;left:78.0px;width:1200px;text-align:center;">NC</div>
<div class="a" style="left:693px;top:310px;width:35px;height:24px;background:#ace6bf;border-radius:2.5px"></div>
<div class="t" style="top:317.47px;font-size:9.6px;line-height:9.6px;font-weight:700;color:#123a1e;left:110.5px;width:1200px;text-align:center;">0</div>
<div class="a" style="left:728px;top:310px;width:30px;height:24px;background:#ebaeb0;border-radius:2.5px"></div>
<div class="t" style="top:317.47px;font-size:9.6px;line-height:9.6px;font-weight:700;color:#331b1b;left:143.0px;width:1200px;text-align:center;">-2%</div>
<div class="a" style="left:805px;top:310px;width:91px;height:24px;background:#fdf5e0"></div>
<div class="a" style="left:806.5px;top:311px;width:67px;height:20.5px;box-sizing:border-box;border:1px solid #dcdcdc;border-radius:3.5px;background:#fff"></div>
<div class="t" style="top:317.08px;font-size:10.3px;line-height:10.3px;color:#111;letter-spacing:0.25px;right:707.5px;">0.68</div>
<div class="t" style="top:313.49px;font-size:11px;line-height:11px;font-weight:700;color:#000;right:680.6px;">%</div>
<div class="a" style="left:897px;top:310px;width:92px;height:24px;background:#fdf5e0"></div>
<div class="a" style="left:898.5px;top:311px;width:67px;height:20.5px;box-sizing:border-box;border:1px solid #dcdcdc;border-radius:3.5px;background:#fff"></div>
<div class="t" style="top:317.08px;font-size:10.3px;line-height:10.3px;color:#111;letter-spacing:0.25px;right:615.5px;">0.70</div>
<div class="t" style="top:313.49px;font-size:11px;line-height:11px;font-weight:700;color:#000;right:587.6px;">%</div>
<div class="a" style="left:990px;top:310px;width:92px;height:24px;background:#fdf5e0"></div>
<div class="a" style="left:991.5px;top:311px;width:67px;height:20.5px;box-sizing:border-box;border:1px solid #dcdcdc;border-radius:3.5px;background:#fff"></div>
<div class="t" style="top:313.49px;font-size:11px;line-height:11px;font-weight:700;color:#000;right:494.5999999999999px;">%</div>
<div class="t" style="top:314.19px;font-size:11px;line-height:11px;font-weight:700;color:#000;right:776px;">%</div>
<div class="t" style="top:315.07px;font-size:11.5px;line-height:11.5px;font-weight:700;color:#000;right:382.5px;">0.69 %</div>
<div class="t" style="top:340.07px;font-size:11.5px;line-height:11.5px;font-weight:700;color:#000;right:1211.7px;">115.00</div>
<div class="a" style="left:368px;top:335px;width:17px;height:24px;background:#ace6bf;border-radius:2.5px"></div>
<div class="t" style="top:342.47px;font-size:9.6px;line-height:9.6px;font-weight:700;color:#123a1e;left:-223.5px;width:1200px;text-align:center;">0</div>
<div class="a" style="left:385px;top:335px;width:27px;height:24px;background:#ececec;border-radius:2.5px"></div>
<div class="t" style="top:342.47px;font-size:9.6px;line-height:9.6px;font-weight:700;color:#444;left:-201.5px;width:1200px;text-align:center;">NC</div>
<div class="a" style="left:413px;top:335px;width:58px;height:24px;background:#ebaeb0;border-radius:2.5px"></div>
<div class="t" style="top:342.47px;font-size:9.6px;line-height:9.6px;font-weight:700;color:#331b1b;left:-158.0px;width:1200px;text-align:center;">-2&#x27;361.92</div>
<div class="a" style="left:471px;top:335px;width:47px;height:24px;background:#ebaeb0;border-radius:2.5px"></div>
<div class="t" style="top:342.47px;font-size:9.6px;line-height:9.6px;font-weight:700;color:#331b1b;left:-105.5px;width:1200px;text-align:center;">-95.00%</div>
<div class="a" style="left:519px;top:335px;width:59px;height:24px;background:#ebaeb0;border-radius:2.5px"></div>
<div class="t" style="top:342.47px;font-size:9.6px;line-height:9.6px;font-weight:700;color:#331b1b;left:-51.5px;width:1200px;text-align:center;">-2&#x27;125.00</div>
<div class="a" style="left:578px;top:335px;width:46px;height:24px;background:#ebaeb0;border-radius:2.5px"></div>
<div class="t" style="top:342.47px;font-size:9.6px;line-height:9.6px;font-weight:700;color:#331b1b;left:1.0px;width:1200px;text-align:center;">-95.00%</div>
<div class="a" style="left:625px;top:335px;width:39px;height:24px;background:#ace6bf;border-radius:2.5px"></div>
<div class="t" style="top:342.47px;font-size:9.6px;line-height:9.6px;font-weight:700;color:#123a1e;left:44.5px;width:1200px;text-align:center;">0.00</div>
<div class="a" style="left:664px;top:335px;width:28px;height:24px;background:#ececec;border-radius:2.5px"></div>
<div class="t" style="top:342.47px;font-size:9.6px;line-height:9.6px;font-weight:700;color:#444;left:78.0px;width:1200px;text-align:center;">NC</div>
<div class="a" style="left:693px;top:335px;width:35px;height:24px;background:#ace6bf;border-radius:2.5px"></div>
<div class="t" style="top:342.47px;font-size:9.6px;line-height:9.6px;font-weight:700;color:#123a1e;left:110.5px;width:1200px;text-align:center;">5</div>
<div class="a" style="left:728px;top:335px;width:30px;height:24px;background:#ace6bf;border-radius:2.5px"></div>
<div class="t" style="top:342.47px;font-size:9.6px;line-height:9.6px;font-weight:700;color:#123a1e;left:143.0px;width:1200px;text-align:center;">5%</div>
<div class="a" style="left:805px;top:335px;width:91px;height:24px;background:#fdf5e0"></div>
<div class="a" style="left:806.5px;top:336px;width:88px;height:20.5px;box-sizing:border-box;border:1px solid #dcdcdc;border-radius:3.5px;background:#fff"></div>
<div class="t" style="top:342.08px;font-size:10.3px;line-height:10.3px;color:#111;letter-spacing:0.25px;right:685.1px;">2476.92</div>
<div class="a" style="left:897px;top:335px;width:92px;height:24px;background:#fdf5e0"></div>
<div class="a" style="left:898.5px;top:336px;width:89px;height:20.5px;box-sizing:border-box;border:1px solid #dcdcdc;border-radius:3.5px;background:#fff"></div>
<div class="t" style="top:342.08px;font-size:10.3px;line-height:10.3px;color:#111;letter-spacing:0.25px;right:592.1px;">2240.00</div>
<div class="a" style="left:990px;top:335px;width:92px;height:24px;background:#fdf5e0"></div>
<div class="a" style="left:991.5px;top:336px;width:89px;height:20.5px;box-sizing:border-box;border:1px solid #dcdcdc;border-radius:3.5px;background:#fff"></div>
<div class="t" style="top:340.07px;font-size:11.5px;line-height:11.5px;font-weight:700;color:#000;right:382.5px;">110.00</div>
<div class="t" style="top:365.07px;font-size:11.5px;line-height:11.5px;font-weight:700;color:#000;right:1211.7px;">78.04</div>
<div class="a" style="left:368px;top:360px;width:17px;height:24px;background:#ace6bf;border-radius:2.5px"></div>
<div class="t" style="top:367.47px;font-size:9.6px;line-height:9.6px;font-weight:700;color:#123a1e;left:-223.5px;width:1200px;text-align:center;">0</div>
<div class="a" style="left:385px;top:360px;width:27px;height:24px;background:#ececec;border-radius:2.5px"></div>
<div class="t" style="top:367.47px;font-size:9.6px;line-height:9.6px;font-weight:700;color:#444;left:-201.5px;width:1200px;text-align:center;">NC</div>
<div class="a" style="left:413px;top:360px;width:58px;height:24px;background:#ebaeb0;border-radius:2.5px"></div>
<div class="t" style="top:367.47px;font-size:9.6px;line-height:9.6px;font-weight:700;color:#331b1b;left:-158.0px;width:1200px;text-align:center;">-1&#x27;602.73</div>
<div class="a" style="left:471px;top:360px;width:47px;height:24px;background:#ebaeb0;border-radius:2.5px"></div>
<div class="t" style="top:367.47px;font-size:9.6px;line-height:9.6px;font-weight:700;color:#331b1b;left:-105.5px;width:1200px;text-align:center;">-95.00%</div>
<div class="a" style="left:519px;top:360px;width:59px;height:24px;background:#ebaeb0;border-radius:2.5px"></div>
<div class="t" style="top:367.47px;font-size:9.6px;line-height:9.6px;font-weight:700;color:#331b1b;left:-51.5px;width:1200px;text-align:center;">-1&#x27;481.96</div>
<div class="a" style="left:578px;top:360px;width:46px;height:24px;background:#ebaeb0;border-radius:2.5px"></div>
<div class="t" style="top:367.47px;font-size:9.6px;line-height:9.6px;font-weight:700;color:#331b1b;left:1.0px;width:1200px;text-align:center;">-95.00%</div>
<div class="a" style="left:625px;top:360px;width:39px;height:24px;background:#ace6bf;border-radius:2.5px"></div>
<div class="t" style="top:367.47px;font-size:9.6px;line-height:9.6px;font-weight:700;color:#123a1e;left:44.5px;width:1200px;text-align:center;">0.00</div>
<div class="a" style="left:664px;top:360px;width:28px;height:24px;background:#ececec;border-radius:2.5px"></div>
<div class="t" style="top:367.47px;font-size:9.6px;line-height:9.6px;font-weight:700;color:#444;left:78.0px;width:1200px;text-align:center;">NC</div>
<div class="a" style="left:693px;top:360px;width:35px;height:24px;background:#ace6bf;border-radius:2.5px"></div>
<div class="t" style="top:367.47px;font-size:9.6px;line-height:9.6px;font-weight:700;color:#123a1e;left:110.5px;width:1200px;text-align:center;">2</div>
<div class="a" style="left:728px;top:360px;width:30px;height:24px;background:#ace6bf;border-radius:2.5px"></div>
<div class="t" style="top:367.47px;font-size:9.6px;line-height:9.6px;font-weight:700;color:#123a1e;left:143.0px;width:1200px;text-align:center;">3%</div>
<div class="a" style="left:805px;top:360px;width:91px;height:24px;background:#fdf5e0"></div>
<div class="a" style="left:806.5px;top:361px;width:88px;height:20.5px;box-sizing:border-box;border:1px solid #dcdcdc;border-radius:3.5px;background:#fff"></div>
<div class="t" style="top:367.08px;font-size:10.3px;line-height:10.3px;color:#111;letter-spacing:0.25px;right:685.1px;">1680.77</div>
<div class="a" style="left:897px;top:360px;width:92px;height:24px;background:#fdf5e0"></div>
<div class="a" style="left:898.5px;top:361px;width:89px;height:20.5px;box-sizing:border-box;border:1px solid #dcdcdc;border-radius:3.5px;background:#fff"></div>
<div class="t" style="top:367.08px;font-size:10.3px;line-height:10.3px;color:#111;letter-spacing:0.25px;right:592.1px;">1560.00</div>
<div class="a" style="left:990px;top:360px;width:92px;height:24px;background:#fdf5e0"></div>
<div class="a" style="left:991.5px;top:361px;width:89px;height:20.5px;box-sizing:border-box;border:1px solid #dcdcdc;border-radius:3.5px;background:#fff"></div>
<div class="t" style="top:365.07px;font-size:11.5px;line-height:11.5px;font-weight:700;color:#000;right:382.5px;">75.86</div>
<div class="t" style="top:391.07px;font-size:11.5px;line-height:11.5px;right:1211.7px;">-41&#x27;800</div>
<div class="a" style="left:368px;top:385px;width:17px;height:24px;background:#ace6bf;border-radius:2.5px"></div>
<div class="t" style="top:392.47px;font-size:9.6px;line-height:9.6px;color:#123a1e;left:-223.5px;width:1200px;text-align:center;">0</div>
<div class="a" style="left:385px;top:385px;width:27px;height:24px;background:#ececec;border-radius:2.5px"></div>
<div class="t" style="top:392.47px;font-size:9.6px;line-height:9.6px;color:#444;left:-201.5px;width:1200px;text-align:center;">NC</div>
<div class="a" style="left:413px;top:385px;width:58px;height:24px;background:#ace6bf;border-radius:2.5px"></div>
<div class="t" style="top:392.47px;font-size:9.6px;line-height:9.6px;color:#123a1e;left:-158.0px;width:1200px;text-align:center;">1&#x27;128&#x27;600</div>
<div class="a" style="left:471px;top:385px;width:47px;height:24px;background:#ace6bf;border-radius:2.5px"></div>
<div class="t" style="top:392.47px;font-size:9.6px;line-height:9.6px;color:#123a1e;left:-105.5px;width:1200px;text-align:center;">96%</div>
<div class="a" style="left:519px;top:385px;width:59px;height:24px;background:#ace6bf;border-radius:2.5px"></div>
<div class="t" style="top:392.47px;font-size:9.6px;line-height:9.6px;color:#123a1e;left:-51.5px;width:1200px;text-align:center;">1&#x27;159&#x27;400</div>
<div class="a" style="left:578px;top:385px;width:46px;height:24px;background:#ace6bf;border-radius:2.5px"></div>
<div class="t" style="top:392.47px;font-size:9.6px;line-height:9.6px;color:#123a1e;left:1.0px;width:1200px;text-align:center;">97%</div>
<div class="a" style="left:625px;top:385px;width:39px;height:24px;background:#ace6bf;border-radius:2.5px"></div>
<div class="t" style="top:392.47px;font-size:9.6px;line-height:9.6px;color:#123a1e;left:44.5px;width:1200px;text-align:center;">0</div>
<div class="a" style="left:664px;top:385px;width:28px;height:24px;background:#ececec;border-radius:2.5px"></div>
<div class="t" style="top:392.47px;font-size:9.6px;line-height:9.6px;color:#444;left:78.0px;width:1200px;text-align:center;">NC</div>
<div class="a" style="left:693px;top:385px;width:35px;height:24px;background:#ebaeb0;border-radius:2.5px"></div>
<div class="t" style="top:392.47px;font-size:9.6px;line-height:9.6px;color:#331b1b;left:110.5px;width:1200px;text-align:center;">-1&#x27;800</div>
<div class="a" style="left:728px;top:385px;width:30px;height:24px;background:#ebaeb0;border-radius:2.5px"></div>
<div class="t" style="top:392.47px;font-size:9.6px;line-height:9.6px;color:#331b1b;left:143.0px;width:1200px;text-align:center;">-4%</div>
<div class="a" style="left:805px;top:385px;width:91px;height:24px;background:#fdf5e0"></div>
<div class="a" style="left:806.5px;top:386px;width:88px;height:20.5px;box-sizing:border-box;border:1px solid #dcdcdc;border-radius:3.5px;background:#fff"></div>
<div class="t" style="top:392.08px;font-size:10.3px;line-height:10.3px;color:#111;letter-spacing:0.25px;right:685.1px;">-1170400</div>
<div class="a" style="left:897px;top:385px;width:92px;height:24px;background:#fdf5e0"></div>
<div class="a" style="left:898.5px;top:386px;width:89px;height:20.5px;box-sizing:border-box;border:1px solid #dcdcdc;border-radius:3.5px;background:#fff"></div>
<div class="t" style="top:392.08px;font-size:10.3px;line-height:10.3px;color:#111;letter-spacing:0.25px;right:592.1px;">-1201200</div>
<div class="a" style="left:990px;top:385px;width:92px;height:24px;background:#fdf5e0"></div>
<div class="a" style="left:991.5px;top:386px;width:89px;height:20.5px;box-sizing:border-box;border:1px solid #dcdcdc;border-radius:3.5px;background:#fff"></div>
<div class="t" style="top:391.07px;font-size:11.5px;line-height:11.5px;right:382.5px;">-40&#x27;000</div>
<div class="t" style="top:416.07px;font-size:11.5px;line-height:11.5px;right:1211.7px;">-22.00</div>
<div class="a" style="left:368px;top:410px;width:17px;height:24px;background:#ace6bf;border-radius:2.5px"></div>
<div class="t" style="top:417.47px;font-size:9.6px;line-height:9.6px;color:#123a1e;left:-223.5px;width:1200px;text-align:center;">0</div>
<div class="a" style="left:385px;top:410px;width:27px;height:24px;background:#ececec;border-radius:2.5px"></div>
<div class="t" style="top:417.47px;font-size:9.6px;line-height:9.6px;color:#444;left:-201.5px;width:1200px;text-align:center;">NC</div>
<div class="a" style="left:413px;top:410px;width:58px;height:24px;background:#ace6bf;border-radius:2.5px"></div>
<div class="t" style="top:417.47px;font-size:9.6px;line-height:9.6px;color:#123a1e;left:-158.0px;width:1200px;text-align:center;">594.00</div>
<div class="a" style="left:471px;top:410px;width:47px;height:24px;background:#ace6bf;border-radius:2.5px"></div>
<div class="t" style="top:417.47px;font-size:9.6px;line-height:9.6px;color:#123a1e;left:-105.5px;width:1200px;text-align:center;">96.00%</div>
<div class="a" style="left:519px;top:410px;width:59px;height:24px;background:#ace6bf;border-radius:2.5px"></div>
<div class="t" style="top:417.47px;font-size:9.6px;line-height:9.6px;color:#123a1e;left:-51.5px;width:1200px;text-align:center;">594.00</div>
<div class="a" style="left:578px;top:410px;width:46px;height:24px;background:#ace6bf;border-radius:2.5px"></div>
<div class="t" style="top:417.47px;font-size:9.6px;line-height:9.6px;color:#123a1e;left:1.0px;width:1200px;text-align:center;">96.00%</div>
<div class="a" style="left:625px;top:410px;width:39px;height:24px;background:#ace6bf;border-radius:2.5px"></div>
<div class="t" style="top:417.47px;font-size:9.6px;line-height:9.6px;color:#123a1e;left:44.5px;width:1200px;text-align:center;">0.00</div>
<div class="a" style="left:664px;top:410px;width:28px;height:24px;background:#ececec;border-radius:2.5px"></div>
<div class="t" style="top:417.47px;font-size:9.6px;line-height:9.6px;color:#444;left:78.0px;width:1200px;text-align:center;">NC</div>
<div class="a" style="left:693px;top:410px;width:35px;height:24px;background:#ebaeb0;border-radius:2.5px"></div>
<div class="t" style="top:417.47px;font-size:9.6px;line-height:9.6px;color:#331b1b;left:110.5px;width:1200px;text-align:center;">-2</div>
<div class="a" style="left:728px;top:410px;width:30px;height:24px;background:#ebaeb0;border-radius:2.5px"></div>
<div class="t" style="top:417.47px;font-size:9.6px;line-height:9.6px;color:#331b1b;left:143.0px;width:1200px;text-align:center;">-10%</div>
<div class="a" style="left:805px;top:410px;width:91px;height:24px;background:#fdf5e0"></div>
<div class="a" style="left:806.5px;top:411px;width:88px;height:20.5px;box-sizing:border-box;border:1px solid #dcdcdc;border-radius:3.5px;background:#fff"></div>
<div class="t" style="top:417.08px;font-size:10.3px;line-height:10.3px;color:#111;letter-spacing:0.25px;right:685.1px;">-616.00</div>
<div class="a" style="left:897px;top:410px;width:92px;height:24px;background:#fdf5e0"></div>
<div class="a" style="left:898.5px;top:411px;width:89px;height:20.5px;box-sizing:border-box;border:1px solid #dcdcdc;border-radius:3.5px;background:#fff"></div>
<div class="t" style="top:417.08px;font-size:10.3px;line-height:10.3px;color:#111;letter-spacing:0.25px;right:592.1px;">-616.00</div>
<div class="a" style="left:990px;top:410px;width:92px;height:24px;background:#fdf5e0"></div>
<div class="a" style="left:991.5px;top:411px;width:89px;height:20.5px;box-sizing:border-box;border:1px solid #dcdcdc;border-radius:3.5px;background:#fff"></div>
<div class="t" style="top:416.07px;font-size:11.5px;line-height:11.5px;right:382.5px;">-20.00</div>
<div class="t" style="top:468.07px;font-size:11.5px;line-height:11.5px;right:1211.7px;">41&#x27;990</div>
<div class="a" style="left:368px;top:462px;width:17px;height:24px;background:#ace6bf;border-radius:2.5px"></div>
<div class="t" style="top:469.47px;font-size:9.6px;line-height:9.6px;color:#123a1e;left:-223.5px;width:1200px;text-align:center;">0</div>
<div class="a" style="left:385px;top:462px;width:27px;height:24px;background:#ececec;border-radius:2.5px"></div>
<div class="t" style="top:469.47px;font-size:9.6px;line-height:9.6px;color:#444;left:-201.5px;width:1200px;text-align:center;">NC</div>
<div class="a" style="left:413px;top:462px;width:58px;height:24px;background:#ebaeb0;border-radius:2.5px"></div>
<div class="t" style="top:469.47px;font-size:9.6px;line-height:9.6px;color:#331b1b;left:-158.0px;width:1200px;text-align:center;">-32&#x27;878&#x27;170</div>
<div class="a" style="left:471px;top:462px;width:47px;height:24px;background:#ebaeb0;border-radius:2.5px"></div>
<div class="t" style="top:469.47px;font-size:9.6px;line-height:9.6px;color:#331b1b;left:-105.5px;width:1200px;text-align:center;">-100%</div>
<div class="a" style="left:519px;top:462px;width:59px;height:24px;background:#ebaeb0;border-radius:2.5px"></div>
<div class="t" style="top:469.47px;font-size:9.6px;line-height:9.6px;color:#331b1b;left:-51.5px;width:1200px;text-align:center;">-42&#x27;764&#x27;410</div>
<div class="a" style="left:578px;top:462px;width:46px;height:24px;background:#ebaeb0;border-radius:2.5px"></div>
<div class="t" style="top:469.47px;font-size:9.6px;line-height:9.6px;color:#331b1b;left:1.0px;width:1200px;text-align:center;">-100%</div>
<div class="a" style="left:625px;top:462px;width:39px;height:24px;background:#ace6bf;border-radius:2.5px"></div>
<div class="t" style="top:469.47px;font-size:9.6px;line-height:9.6px;color:#123a1e;left:44.5px;width:1200px;text-align:center;">0</div>
<div class="a" style="left:664px;top:462px;width:28px;height:24px;background:#ececec;border-radius:2.5px"></div>
<div class="t" style="top:469.47px;font-size:9.6px;line-height:9.6px;color:#444;left:78.0px;width:1200px;text-align:center;">NC</div>
<div class="a" style="left:693px;top:462px;width:35px;height:24px;background:#ebaeb0;border-radius:2.5px"></div>
<div class="t" style="top:469.47px;font-size:9.6px;line-height:9.6px;color:#331b1b;left:110.5px;width:1200px;text-align:center;">-1&#x27;210</div>
<div class="a" style="left:728px;top:462px;width:30px;height:24px;background:#ebaeb0;border-radius:2.5px"></div>
<div class="t" style="top:469.47px;font-size:9.6px;line-height:9.6px;color:#331b1b;left:143.0px;width:1200px;text-align:center;">-3%</div>
<div class="a" style="left:805px;top:462px;width:91px;height:24px;background:#fdf5e0"></div>
<div class="a" style="left:806.5px;top:463px;width:88px;height:20.5px;box-sizing:border-box;border:1px solid #dcdcdc;border-radius:3.5px;background:#fff"></div>
<div class="t" style="top:469.08px;font-size:10.3px;line-height:10.3px;color:#111;letter-spacing:0.25px;right:685.1px;">32920160</div>
<div class="a" style="left:897px;top:462px;width:92px;height:24px;background:#fdf5e0"></div>
<div class="a" style="left:898.5px;top:463px;width:89px;height:20.5px;box-sizing:border-box;border:1px solid #dcdcdc;border-radius:3.5px;background:#fff"></div>
<div class="t" style="top:469.08px;font-size:10.3px;line-height:10.3px;color:#111;letter-spacing:0.25px;right:592.1px;">42806400</div>
<div class="a" style="left:990px;top:462px;width:92px;height:24px;background:#fdf5e0"></div>
<div class="a" style="left:991.5px;top:463px;width:89px;height:20.5px;box-sizing:border-box;border:1px solid #dcdcdc;border-radius:3.5px;background:#fff"></div>
<div class="t" style="top:468.07px;font-size:11.5px;line-height:11.5px;right:382.5px;">43&#x27;200</div>
<div class="t" style="top:493.07px;font-size:11.5px;line-height:11.5px;right:1211.7px;">17.00</div>
<div class="a" style="left:368px;top:487px;width:17px;height:24px;background:#ace6bf;border-radius:2.5px"></div>
<div class="t" style="top:494.47px;font-size:9.6px;line-height:9.6px;color:#123a1e;left:-223.5px;width:1200px;text-align:center;">0</div>
<div class="a" style="left:385px;top:487px;width:27px;height:24px;background:#ececec;border-radius:2.5px"></div>
<div class="t" style="top:494.47px;font-size:9.6px;line-height:9.6px;color:#444;left:-201.5px;width:1200px;text-align:center;">NC</div>
<div class="a" style="left:413px;top:487px;width:58px;height:24px;background:#ebaeb0;border-radius:2.5px"></div>
<div class="t" style="top:494.47px;font-size:9.6px;line-height:9.6px;color:#331b1b;left:-158.0px;width:1200px;text-align:center;">-459.00</div>
<div class="a" style="left:471px;top:487px;width:47px;height:24px;background:#ebaeb0;border-radius:2.5px"></div>
<div class="t" style="top:494.47px;font-size:9.6px;line-height:9.6px;color:#331b1b;left:-105.5px;width:1200px;text-align:center;">-96.00%</div>
<div class="a" style="left:519px;top:487px;width:59px;height:24px;background:#ebaeb0;border-radius:2.5px"></div>
<div class="t" style="top:494.47px;font-size:9.6px;line-height:9.6px;color:#331b1b;left:-51.5px;width:1200px;text-align:center;">-543.00</div>
<div class="a" style="left:578px;top:487px;width:46px;height:24px;background:#ebaeb0;border-radius:2.5px"></div>
<div class="t" style="top:494.47px;font-size:9.6px;line-height:9.6px;color:#331b1b;left:1.0px;width:1200px;text-align:center;">-97.00%</div>
<div class="a" style="left:625px;top:487px;width:39px;height:24px;background:#ace6bf;border-radius:2.5px"></div>
<div class="t" style="top:494.47px;font-size:9.6px;line-height:9.6px;color:#123a1e;left:44.5px;width:1200px;text-align:center;">0.00</div>
<div class="a" style="left:664px;top:487px;width:28px;height:24px;background:#ececec;border-radius:2.5px"></div>
<div class="t" style="top:494.47px;font-size:9.6px;line-height:9.6px;color:#444;left:78.0px;width:1200px;text-align:center;">NC</div>
<div class="a" style="left:693px;top:487px;width:35px;height:24px;background:#ebaeb0;border-radius:2.5px"></div>
<div class="t" style="top:494.47px;font-size:9.6px;line-height:9.6px;color:#331b1b;left:110.5px;width:1200px;text-align:center;">-1</div>
<div class="a" style="left:728px;top:487px;width:30px;height:24px;background:#ebaeb0;border-radius:2.5px"></div>
<div class="t" style="top:494.47px;font-size:9.6px;line-height:9.6px;color:#331b1b;left:143.0px;width:1200px;text-align:center;">-6%</div>
<div class="a" style="left:805px;top:487px;width:91px;height:24px;background:#fdf5e0"></div>
<div class="a" style="left:806.5px;top:488px;width:88px;height:20.5px;box-sizing:border-box;border:1px solid #dcdcdc;border-radius:3.5px;background:#fff"></div>
<div class="t" style="top:494.08px;font-size:10.3px;line-height:10.3px;color:#111;letter-spacing:0.25px;right:685.1px;">476.00</div>
<div class="a" style="left:897px;top:487px;width:92px;height:24px;background:#fdf5e0"></div>
<div class="a" style="left:898.5px;top:488px;width:89px;height:20.5px;box-sizing:border-box;border:1px solid #dcdcdc;border-radius:3.5px;background:#fff"></div>
<div class="t" style="top:494.08px;font-size:10.3px;line-height:10.3px;color:#111;letter-spacing:0.25px;right:592.1px;">560.00</div>
<div class="a" style="left:990px;top:487px;width:92px;height:24px;background:#fdf5e0"></div>
<div class="a" style="left:991.5px;top:488px;width:89px;height:20.5px;box-sizing:border-box;border:1px solid #dcdcdc;border-radius:3.5px;background:#fff"></div>
<div class="t" style="top:493.07px;font-size:11.5px;line-height:11.5px;right:382.5px;">18.00</div>
<div class="a" style="left:1214px;top:90px;width:73px;height:422px;background:#f2f2f0"></div>
<div class="a" style="left:1214px;top:183px;width:73px;height:25px;background:#ffffff"></div>
<div class="a" style="left:1214px;top:208px;width:73px;height:25px;background:#ffffff"></div>
<div class="a" style="left:1214px;top:233px;width:73px;height:25px;background:#ffffff"></div>
<div class="a" style="left:1214px;top:258px;width:73px;height:25px;background:#ffffff"></div>
<div class="a" style="left:1214px;top:283px;width:73px;height:26px;background:#ffffff"></div>
<div class="a" style="left:1214px;top:309px;width:73px;height:25px;background:#d9ece9"></div>
<div class="a" style="left:1214px;top:334px;width:73px;height:25px;background:#d9ece9"></div>
<div class="a" style="left:1214px;top:359px;width:73px;height:25px;background:#d9ece9"></div>
<div class="a" style="left:1214px;top:384px;width:73px;height:25px;background:#ffffff"></div>
<div class="a" style="left:1214px;top:409px;width:73px;height:25px;background:#ffffff"></div>
<div class="a" style="left:1214px;top:461px;width:73px;height:25px;background:#ffffff"></div>
<div class="a" style="left:1214px;top:486px;width:73px;height:25px;background:#ffffff"></div>
<div class="a" style="left:1214px;top:90px;width:73px;height:1px;background:#dde2e7"></div>
<div class="a" style="left:1214px;top:131px;width:73px;height:1px;background:#dde2e7"></div>
<div class="a" style="left:1214px;top:156px;width:73px;height:1px;background:#dde2e7"></div>
<div class="a" style="left:1214px;top:183px;width:73px;height:1px;background:#dde2e7"></div>
<div class="a" style="left:1214px;top:208px;width:73px;height:1px;background:#dde2e7"></div>
<div class="a" style="left:1214px;top:233px;width:73px;height:1px;background:#dde2e7"></div>
<div class="a" style="left:1214px;top:258px;width:73px;height:1px;background:#dde2e7"></div>
<div class="a" style="left:1214px;top:283px;width:73px;height:1px;background:#dde2e7"></div>
<div class="a" style="left:1214px;top:309px;width:73px;height:1px;background:#dde2e7"></div>
<div class="a" style="left:1214px;top:334px;width:73px;height:1px;background:#dde2e7"></div>
<div class="a" style="left:1214px;top:359px;width:73px;height:1px;background:#dde2e7"></div>
<div class="a" style="left:1214px;top:384px;width:73px;height:1px;background:#dde2e7"></div>
<div class="a" style="left:1214px;top:409px;width:73px;height:1px;background:#dde2e7"></div>
<div class="a" style="left:1214px;top:434px;width:73px;height:1px;background:#dde2e7"></div>
<div class="a" style="left:1214px;top:461px;width:73px;height:1px;background:#dde2e7"></div>
<div class="a" style="left:1214px;top:486px;width:73px;height:1px;background:#dde2e7"></div>
<div class="a" style="left:1214px;top:511px;width:73px;height:1px;background:#dde2e7"></div>
<div class="a" style="left:1214px;top:90px;width:1px;height:422px;background:#dde2e7"></div>
<div class="a" style="left:1286px;top:90px;width:1px;height:422px;background:#dde2e7"></div>
<div class="t" style="top:97.57px;font-size:11.5px;line-height:11.5px;font-weight:700;color:#000;left:639.9000000000001px;width:1200px;text-align:center;">March</div>
<div class="t" style="top:115.07px;font-size:11.5px;line-height:11.5px;font-weight:700;color:#000;left:639.9000000000001px;width:1200px;text-align:center;">2025</div>
<div class="a" style="left:1262px;top:97px;width:19.5px;height:21.3px;background:#fff;border-radius:4px;box-shadow:0 0 0 0.5px #e6e6e6"></div>
<svg class="a" style="left:1266.0px;top:102.15px" width="11.5" height="11" viewBox="0 0 11.5 11"><path d="M1 5.5 H10.5 M6.5 1.5 L10.5 5.5 L6.5 9.5" fill="none" stroke="#444" stroke-width="1.5" stroke-linecap="round" stroke-linejoin="round"/></svg>
<div class="t" style="top:137.31px;font-size:10.5px;line-height:10.5px;font-weight:700;color:#000;left:650.5px;width:1200px;text-align:center;">OTB</div>
<div class="t" style="top:163.27px;font-size:11.5px;line-height:11.5px;font-weight:700;color:#000;left:650.5px;width:1200px;text-align:center;">March 2025</div>
<div class="t" style="top:442.27px;font-size:11.5px;line-height:11.5px;font-weight:700;color:#000;left:650.5px;width:1200px;text-align:center;">March 2025</div>
<div class="t" style="top:313.77px;font-size:11.5px;line-height:11.5px;font-weight:700;color:#000;right:292.5px;">%</div>
<div class="a" style="left:1304px;top:90px;width:72px;height:422px;background:#f2f2f0"></div>
<div class="a" style="left:1304px;top:183px;width:72px;height:25px;background:#ffffff"></div>
<div class="a" style="left:1304px;top:208px;width:72px;height:25px;background:#ffffff"></div>
<div class="a" style="left:1304px;top:233px;width:72px;height:25px;background:#ffffff"></div>
<div class="a" style="left:1304px;top:258px;width:72px;height:25px;background:#ffffff"></div>
<div class="a" style="left:1304px;top:283px;width:72px;height:26px;background:#ffffff"></div>
<div class="a" style="left:1304px;top:309px;width:72px;height:25px;background:#d9ece9"></div>
<div class="a" style="left:1304px;top:334px;width:72px;height:25px;background:#d9ece9"></div>
<div class="a" style="left:1304px;top:359px;width:72px;height:25px;background:#d9ece9"></div>
<div class="a" style="left:1304px;top:384px;width:72px;height:25px;background:#ffffff"></div>
<div class="a" style="left:1304px;top:409px;width:72px;height:25px;background:#ffffff"></div>
<div class="a" style="left:1304px;top:461px;width:72px;height:25px;background:#ffffff"></div>
<div class="a" style="left:1304px;top:486px;width:72px;height:25px;background:#ffffff"></div>
<div class="a" style="left:1304px;top:90px;width:72px;height:1px;background:#dde2e7"></div>
<div class="a" style="left:1304px;top:131px;width:72px;height:1px;background:#dde2e7"></div>
<div class="a" style="left:1304px;top:156px;width:72px;height:1px;background:#dde2e7"></div>
<div class="a" style="left:1304px;top:183px;width:72px;height:1px;background:#dde2e7"></div>
<div class="a" style="left:1304px;top:208px;width:72px;height:1px;background:#dde2e7"></div>
<div class="a" style="left:1304px;top:233px;width:72px;height:1px;background:#dde2e7"></div>
<div class="a" style="left:1304px;top:258px;width:72px;height:1px;background:#dde2e7"></div>
<div class="a" style="left:1304px;top:283px;width:72px;height:1px;background:#dde2e7"></div>
<div class="a" style="left:1304px;top:309px;width:72px;height:1px;background:#dde2e7"></div>
<div class="a" style="left:1304px;top:334px;width:72px;height:1px;background:#dde2e7"></div>
<div class="a" style="left:1304px;top:359px;width:72px;height:1px;background:#dde2e7"></div>
<div class="a" style="left:1304px;top:384px;width:72px;height:1px;background:#dde2e7"></div>
<div class="a" style="left:1304px;top:409px;width:72px;height:1px;background:#dde2e7"></div>
<div class="a" style="left:1304px;top:434px;width:72px;height:1px;background:#dde2e7"></div>
<div class="a" style="left:1304px;top:461px;width:72px;height:1px;background:#dde2e7"></div>
<div class="a" style="left:1304px;top:486px;width:72px;height:1px;background:#dde2e7"></div>
<div class="a" style="left:1304px;top:511px;width:72px;height:1px;background:#dde2e7"></div>
<div class="a" style="left:1304px;top:90px;width:1px;height:422px;background:#dde2e7"></div>
<div class="a" style="left:1375px;top:90px;width:1px;height:422px;background:#dde2e7"></div>
<div class="t" style="top:97.57px;font-size:11.5px;line-height:11.5px;font-weight:700;color:#000;left:729.7px;width:1200px;text-align:center;">April</div>
<div class="t" style="top:115.07px;font-size:11.5px;line-height:11.5px;font-weight:700;color:#000;left:729.7px;width:1200px;text-align:center;">2025</div>
<div class="a" style="left:1351px;top:97px;width:19.5px;height:21.3px;background:#fff;border-radius:4px;box-shadow:0 0 0 0.5px #e6e6e6"></div>
<svg class="a" style="left:1355.0px;top:102.15px" width="11.5" height="11" viewBox="0 0 11.5 11"><path d="M1 5.5 H10.5 M6.5 1.5 L10.5 5.5 L6.5 9.5" fill="none" stroke="#444" stroke-width="1.5" stroke-linecap="round" stroke-linejoin="round"/></svg>
<div class="t" style="top:137.31px;font-size:10.5px;line-height:10.5px;font-weight:700;color:#000;left:740.0px;width:1200px;text-align:center;">OTB</div>
<div class="t" style="top:163.27px;font-size:11.5px;line-height:11.5px;font-weight:700;color:#000;left:740.0px;width:1200px;text-align:center;">April 2025</div>
<div class="t" style="top:442.27px;font-size:11.5px;line-height:11.5px;font-weight:700;color:#000;left:740.0px;width:1200px;text-align:center;">April 2025</div>
<div class="t" style="top:313.77px;font-size:11.5px;line-height:11.5px;font-weight:700;color:#000;right:203.5px;">%</div>
<div class="a" style="left:1393px;top:90px;width:72px;height:422px;background:#f2f2f0"></div>
<div class="a" style="left:1393px;top:183px;width:72px;height:25px;background:#ffffff"></div>
<div class="a" style="left:1393px;top:208px;width:72px;height:25px;background:#ffffff"></div>
<div class="a" style="left:1393px;top:233px;width:72px;height:25px;background:#ffffff"></div>
<div class="a" style="left:1393px;top:258px;width:72px;height:25px;background:#ffffff"></div>
<div class="a" style="left:1393px;top:283px;width:72px;height:26px;background:#ffffff"></div>
<div class="a" style="left:1393px;top:309px;width:72px;height:25px;background:#d9ece9"></div>
<div class="a" style="left:1393px;top:334px;width:72px;height:25px;background:#d9ece9"></div>
<div class="a" style="left:1393px;top:359px;width:72px;height:25px;background:#d9ece9"></div>
<div class="a" style="left:1393px;top:384px;width:72px;height:25px;background:#ffffff"></div>
<div class="a" style="left:1393px;top:409px;width:72px;height:25px;background:#ffffff"></div>
<div class="a" style="left:1393px;top:461px;width:72px;height:25px;background:#ffffff"></div>
<div class="a" style="left:1393px;top:486px;width:72px;height:25px;background:#ffffff"></div>
<div class="a" style="left:1393px;top:90px;width:72px;height:1px;background:#dde2e7"></div>
<div class="a" style="left:1393px;top:131px;width:72px;height:1px;background:#dde2e7"></div>
<div class="a" style="left:1393px;top:156px;width:72px;height:1px;background:#dde2e7"></div>
<div class="a" style="left:1393px;top:183px;width:72px;height:1px;background:#dde2e7"></div>
<div class="a" style="left:1393px;top:208px;width:72px;height:1px;background:#dde2e7"></div>
<div class="a" style="left:1393px;top:233px;width:72px;height:1px;background:#dde2e7"></div>
<div class="a" style="left:1393px;top:258px;width:72px;height:1px;background:#dde2e7"></div>
<div class="a" style="left:1393px;top:283px;width:72px;height:1px;background:#dde2e7"></div>
<div class="a" style="left:1393px;top:309px;width:72px;height:1px;background:#dde2e7"></div>
<div class="a" style="left:1393px;top:334px;width:72px;height:1px;background:#dde2e7"></div>
<div class="a" style="left:1393px;top:359px;width:72px;height:1px;background:#dde2e7"></div>
<div class="a" style="left:1393px;top:384px;width:72px;height:1px;background:#dde2e7"></div>
<div class="a" style="left:1393px;top:409px;width:72px;height:1px;background:#dde2e7"></div>
<div class="a" style="left:1393px;top:434px;width:72px;height:1px;background:#dde2e7"></div>
<div class="a" style="left:1393px;top:461px;width:72px;height:1px;background:#dde2e7"></div>
<div class="a" style="left:1393px;top:486px;width:72px;height:1px;background:#dde2e7"></div>
<div class="a" style="left:1393px;top:511px;width:72px;height:1px;background:#dde2e7"></div>
<div class="a" style="left:1393px;top:90px;width:1px;height:422px;background:#dde2e7"></div>
<div class="a" style="left:1464px;top:90px;width:1px;height:422px;background:#dde2e7"></div>
<div class="t" style="top:97.57px;font-size:11.5px;line-height:11.5px;font-weight:700;color:#000;left:818.7px;width:1200px;text-align:center;">May</div>
<div class="t" style="top:115.07px;font-size:11.5px;line-height:11.5px;font-weight:700;color:#000;left:818.7px;width:1200px;text-align:center;">2025</div>
<div class="a" style="left:1440.8px;top:97px;width:19.5px;height:21.3px;background:#fff;border-radius:4px;box-shadow:0 0 0 0.5px #e6e6e6"></div>
<svg class="a" style="left:1444.8px;top:102.15px" width="11.5" height="11" viewBox="0 0 11.5 11"><path d="M1 5.5 H10.5 M6.5 1.5 L10.5 5.5 L6.5 9.5" fill="none" stroke="#444" stroke-width="1.5" stroke-linecap="round" stroke-linejoin="round"/></svg>
<div class="t" style="top:137.31px;font-size:10.5px;line-height:10.5px;font-weight:700;color:#000;left:829.0px;width:1200px;text-align:center;">OTB</div>
<div class="t" style="top:163.27px;font-size:11.5px;line-height:11.5px;font-weight:700;color:#000;left:829.0px;width:1200px;text-align:center;">May 2025</div>
<div class="t" style="top:442.27px;font-size:11.5px;line-height:11.5px;font-weight:700;color:#000;left:829.0px;width:1200px;text-align:center;">May 2025</div>
<div class="t" style="top:313.77px;font-size:11.5px;line-height:11.5px;font-weight:700;color:#000;right:114.5px;">%</div>
<div class="a" style="left:1482px;top:90px;width:73px;height:422px;background:#f2f2f0"></div>
<div class="a" style="left:1482px;top:183px;width:73px;height:25px;background:#ffffff"></div>
<div class="a" style="left:1482px;top:208px;width:73px;height:25px;background:#ffffff"></div>
<div class="a" style="left:1482px;top:233px;width:73px;height:25px;background:#ffffff"></div>
<div class="a" style="left:1482px;top:258px;width:73px;height:25px;background:#ffffff"></div>
<div class="a" style="left:1482px;top:283px;width:73px;height:26px;background:#ffffff"></div>
<div class="a" style="left:1482px;top:309px;width:73px;height:25px;background:#d9ece9"></div>
<div class="a" style="left:1482px;top:334px;width:73px;height:25px;background:#d9ece9"></div>
<div class="a" style="left:1482px;top:359px;width:73px;height:25px;background:#d9ece9"></div>
<div class="a" style="left:1482px;top:384px;width:73px;height:25px;background:#ffffff"></div>
<div class="a" style="left:1482px;top:409px;width:73px;height:25px;background:#ffffff"></div>
<div class="a" style="left:1482px;top:461px;width:73px;height:25px;background:#ffffff"></div>
<div class="a" style="left:1482px;top:486px;width:73px;height:25px;background:#ffffff"></div>
<div class="a" style="left:1482px;top:90px;width:73px;height:1px;background:#dde2e7"></div>
<div class="a" style="left:1482px;top:131px;width:73px;height:1px;background:#dde2e7"></div>
<div class="a" style="left:1482px;top:156px;width:73px;height:1px;background:#dde2e7"></div>
<div class="a" style="left:1482px;top:183px;width:73px;height:1px;background:#dde2e7"></div>
<div class="a" style="left:1482px;top:208px;width:73px;height:1px;background:#dde2e7"></div>
<div class="a" style="left:1482px;top:233px;width:73px;height:1px;background:#dde2e7"></div>
<div class="a" style="left:1482px;top:258px;width:73px;height:1px;background:#dde2e7"></div>
<div class="a" style="left:1482px;top:283px;width:73px;height:1px;background:#dde2e7"></div>
<div class="a" style="left:1482px;top:309px;width:73px;height:1px;background:#dde2e7"></div>
<div class="a" style="left:1482px;top:334px;width:73px;height:1px;background:#dde2e7"></div>
<div class="a" style="left:1482px;top:359px;width:73px;height:1px;background:#dde2e7"></div>
<div class="a" style="left:1482px;top:384px;width:73px;height:1px;background:#dde2e7"></div>
<div class="a" style="left:1482px;top:409px;width:73px;height:1px;background:#dde2e7"></div>
<div class="a" style="left:1482px;top:434px;width:73px;height:1px;background:#dde2e7"></div>
<div class="a" style="left:1482px;top:461px;width:73px;height:1px;background:#dde2e7"></div>
<div class="a" style="left:1482px;top:486px;width:73px;height:1px;background:#dde2e7"></div>
<div class="a" style="left:1482px;top:511px;width:73px;height:1px;background:#dde2e7"></div>
<div class="a" style="left:1482px;top:90px;width:1px;height:422px;background:#dde2e7"></div>
<div class="a" style="left:1554px;top:90px;width:1px;height:422px;background:#dde2e7"></div>
<div class="t" style="top:97.57px;font-size:11.5px;line-height:11.5px;font-weight:700;color:#000;left:907.9000000000001px;width:1200px;text-align:center;">June</div>
<div class="t" style="top:115.07px;font-size:11.5px;line-height:11.5px;font-weight:700;color:#000;left:907.9000000000001px;width:1200px;text-align:center;">2025</div>
<div class="a" style="left:1530px;top:97px;width:19.5px;height:21.3px;background:#fff;border-radius:4px;box-shadow:0 0 0 0.5px #e6e6e6"></div>
<svg class="a" style="left:1534.0px;top:102.15px" width="11.5" height="11" viewBox="0 0 11.5 11"><path d="M1 5.5 H10.5 M6.5 1.5 L10.5 5.5 L6.5 9.5" fill="none" stroke="#444" stroke-width="1.5" stroke-linecap="round" stroke-linejoin="round"/></svg>
<div class="t" style="top:137.31px;font-size:10.5px;line-height:10.5px;font-weight:700;color:#000;left:918.5px;width:1200px;text-align:center;">OTB</div>
<div class="t" style="top:163.27px;font-size:11.5px;line-height:11.5px;font-weight:700;color:#000;left:918.5px;width:1200px;text-align:center;">June 2025</div>
<div class="t" style="top:442.27px;font-size:11.5px;line-height:11.5px;font-weight:700;color:#000;left:918.5px;width:1200px;text-align:center;">June 2025</div>
<div class="t" style="top:313.77px;font-size:11.5px;line-height:11.5px;font-weight:700;color:#000;right:24.5px;">%</div>
<div class="a" style="left:799px;top:184px;width:194px;height:20px;box-sizing:border-box;border:4.8px solid #e38af5;border-radius:10.0px"></div>
<div class="a" style="left:799px;top:210px;width:98px;height:20.599999999999994px;box-sizing:border-box;border:4.8px solid #fd8522;border-radius:10.299999999999997px"></div>
<div class="a" style="left:896px;top:210px;width:99px;height:20.599999999999994px;box-sizing:border-box;border:4.8px solid #0bbdf6;border-radius:10.299999999999997px"></div>
<div class="a" style="left:797.5px;top:235.5px;width:193.0px;height:19.0px;box-sizing:border-box;border:4.8px solid #828282;border-radius:9.5px"></div>
<div class="a" style="left:798.8px;top:261px;width:193.60000000000002px;height:19.600000000000023px;box-sizing:border-box;border:4.8px solid #0bbdf6;border-radius:9.800000000000011px"></div>
<div class="a" style="left:800.2px;top:285.5px;width:193.69999999999993px;height:19.5px;box-sizing:border-box;border:4.8px solid #828282;border-radius:9.75px"></div>
<div class="a" style="left:801.4px;top:310.4px;width:193.5px;height:18.600000000000023px;box-sizing:border-box;border:4.8px solid #828282;border-radius:9.300000000000011px"></div>
<div class="a" style="left:798.8px;top:335.5px;width:98.20000000000005px;height:20.0px;box-sizing:border-box;border:4.8px solid #fd8522;border-radius:10.0px"></div>
<div class="a" style="left:896px;top:335.5px;width:99px;height:20.0px;box-sizing:border-box;border:4.8px solid #0bbdf6;border-radius:10.0px"></div>
<div class="a" style="left:798.2px;top:361.8px;width:193.79999999999995px;height:19.599999999999966px;box-sizing:border-box;border:4.8px solid #828282;border-radius:9.799999999999983px"></div>
<div class="a" style="left:801.8px;top:386.2px;width:193.9000000000001px;height:20.0px;box-sizing:border-box;border:4.8px solid #828282;border-radius:10.0px"></div>
<div class="a" style="left:799.1px;top:411px;width:193.19999999999993px;height:20px;box-sizing:border-box;border:4.8px solid #e38af5;border-radius:10.0px"></div>
<div class="a" style="left:799.1px;top:464.3px;width:193.19999999999993px;height:20.0px;box-sizing:border-box;border:4.8px solid #828282;border-radius:10.0px"></div>
<div class="a" style="left:799.9px;top:490px;width:193.89999999999998px;height:20px;box-sizing:border-box;border:4.8px solid #0bbdf6;border-radius:10.0px"></div>
<div class="a" style="left:872.9px;top:126.9px;width:26px;height:30px;box-sizing:border-box;border:5.1px solid #fdf431;border-radius:50%"></div>
<div class="t" style="top:10.28px;font-size:24px;line-height:24px;color:#131a2c;left:20.2px;transform:scaleX(1.105);transform-origin:0 0;-webkit-text-stroke:0.45px #131a2c;">Forecast Example</div>
<svg class="a" style="left:256.1px;top:17.3px" width="17.2" height="13" viewBox="0 0 17.2 13"><rect x="0" y="0" width="17.2" height="12.8" rx="1.8" fill="#1e4cf2"/><path d="M0.2 2.4 L8.6 8.9 L17 2.4" fill="none" stroke="#f8f7f4" stroke-width="0.9"/></svg>
<svg class="a" style="left:288px;top:15px" width="17.2" height="17.2" viewBox="0 0 17.2 17.2"><path d="M3.8 6 V2.6 Q3.8 1 5.4 1 H11.8 Q13.4 1 13.4 2.6 V6" fill="none" stroke="#1e4cf2" stroke-width="1.9"/><rect x="0" y="6.2" width="17.2" height="6.8" rx="1.6" fill="#1e4cf2"/><rect x="3.8" y="10" width="9.6" height="6.4" rx="1.2" fill="#1e4cf2"/><rect x="5.6" y="11.9" width="6" height="2.9" fill="#f8f7f4"/><circle cx="14.6" cy="8.4" r="0.7" fill="#f8f7f4"/></svg>
<div class="a" style="left:333.8px;top:10px;width:58.3px;height:26px;background:#0a6cf8;border-radius:4.5px"></div>
<svg class="a" style="left:345px;top:16.6px" width="12" height="12" viewBox="0 0 12 12"><path d="M0.4 11.6 L1.1 8.3 L7.8 1.6 L10.4 4.2 L3.7 10.9 Z" fill="#fff"/><path d="M8.7 0.7 L9.3 0.1 Q9.8 -0.3 10.3 0.1 L11.9 1.7 Q12.3 2.2 11.9 2.7 L11.3 3.3 Z" fill="#fff"/><path d="M1.6 8.6 L3.4 10.4" stroke="#0a6cf6" stroke-width="0.7"/></svg>
<div class="t" style="top:17.82px;font-size:11.2px;line-height:11.2px;font-weight:700;color:#fff;letter-spacing:0.05px;left:359.6px;">Edit</div>
<div class="t" style="left:21.4px;top:64.5px;font-size:11.2px;line-height:11.2px;letter-spacing:0.08px;color:#222">Last rebuild: 05.02.2025 10:46 <span style="color:#1f50f0">Refresh data</span></div>
<div class="t" style="top:17.69px;font-size:11px;line-height:11px;color:#222;left:976.8px;">See data for :</div>
<div class="a" style="left:1055.5px;top:9px;width:89px;height:27.2px;box-sizing:border-box;border:1px solid #c9d0d8;border-radius:4px;background:#fff"></div>
<div class="t" style="top:17.38px;font-size:11.6px;line-height:11.6px;color:#222;letter-spacing:0.4px;left:1065px;">2025</div>
<svg class="a" style="left:1131.5px;top:19px" width="10" height="7" viewBox="0 0 10 7"><path d="M1.2 1.2 L5 5 L8.8 1.2" fill="none" stroke="#333" stroke-width="1.7" stroke-linecap="round" stroke-linejoin="round"/></svg>
<div class="a" style="left:788.1px;top:27.4px;width:327.5px;height:92.1px;background:#fdf836"></div>
<div class="a" style="left:817.9px;top:110px;width:239.1px;height:12px;background:#fdf836"></div>
<div class="a" style="left:793.8px;top:32.9px;width:316.2px;height:81.1px;background:#fff"></div>
<div class="t" style="top:36.88px;font-size:22px;line-height:22px;font-weight:700;color:#000;letter-spacing:0.15px;left:352px;width:1200px;text-align:center;">Peut être transformé en</div>
<div class="t" style="top:62.48px;font-size:22px;line-height:22px;font-weight:700;color:#000;letter-spacing:0.15px;left:352px;width:1200px;text-align:center;">budget pour l&#x27;année suivante</div>
<div class="t" style="top:87.98px;font-size:22px;line-height:22px;font-weight:700;color:#000;letter-spacing:0.15px;left:352px;width:1200px;text-align:center;">en cliquant sur ce bouton</div>
<div class="a" style="left:807.3px;top:561px;width:54.40000000000009px;height:24.5px;box-sizing:border-box;border:5.5px solid #fd8522;border-radius:12.25px"></div>
<div class="a" style="left:807.3px;top:611.3px;width:54.40000000000009px;height:24.5px;box-sizing:border-box;border:5.5px solid #e38af5;border-radius:12.25px"></div>
<div class="a" style="left:807.3px;top:667.6px;width:54.40000000000009px;height:24.100000000000023px;box-sizing:border-box;border:5.5px solid #0bbdf6;border-radius:12.050000000000011px"></div>
<div class="a" style="left:807.3px;top:716.2px;width:54.40000000000009px;height:24.5px;box-sizing:border-box;border:5.5px solid #828282;border-radius:12.25px"></div>
<div class="a" style="left:877px;top:559.3px;width:440.8px;height:29.9px;background:#fff"></div>
<div class="a" style="left:880.3px;top:606px;width:637.7px;height:56.6px;background:#fff"></div>
<div class="a" style="left:880.8px;top:667.2px;width:189.9px;height:30.3px;background:#fff"></div>
<div class="a" style="left:883.2px;top:710.4px;width:609.6px;height:31.1px;background:#fff"></div>
<div class="t" style="top:563.68px;font-size:22px;line-height:22px;font-weight:700;color:#000;letter-spacing:0.2px;left:886.9px;">- provient d&#x27;un outil de forecast externe</div>
<div class="t" style="top:610.68px;font-size:22px;line-height:22px;font-weight:700;color:#000;letter-spacing:0.2px;left:598.5px;width:1200px;text-align:center;">- valeur de l&#x27;année dernière * inflation, ou copiée de l&#x27;année</div>
<div class="t" style="top:636.18px;font-size:22px;line-height:22px;font-weight:700;color:#000;letter-spacing:0.2px;left:598.5px;width:1200px;text-align:center;">dernière (par exemple, chambres disponibles)</div>
<div class="t" style="top:671.78px;font-size:22px;line-height:22px;font-weight:700;color:#000;letter-spacing:0.2px;left:883.2px;">- entrée manuelle</div>
<div class="t" style="top:714.68px;font-size:22px;line-height:22px;font-weight:700;color:#000;letter-spacing:0.2px;left:885.7px;">- calculé automatiquement à partir des valeurs ci-dessus</div>
</div>
</body></html>
